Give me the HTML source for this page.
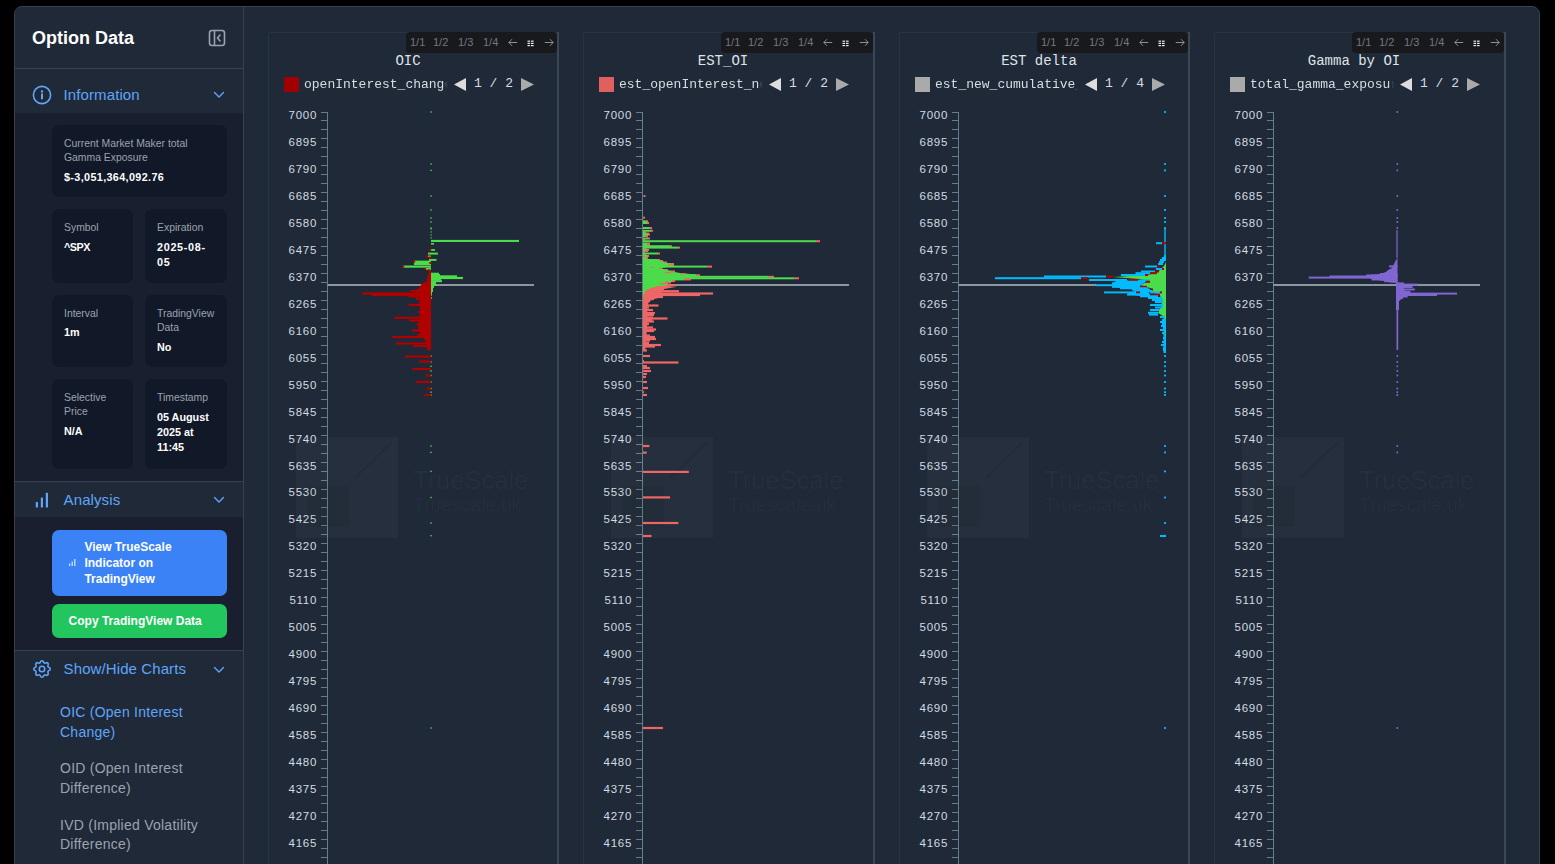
<!DOCTYPE html>
<html><head><meta charset="utf-8"><title>Option Data</title><style>
*{box-sizing:border-box;margin:0;padding:0}
html,body{width:1555px;height:864px;overflow:hidden;background:#000}
body{position:relative;font-family:"Liberation Sans",sans-serif}
.a{position:absolute}
.app{left:14px;top:6px;width:1526px;height:900px;border:1px solid #374151;border-radius:8px;background:#1f2937}
.side-r{left:243px;top:7px;width:1px;height:860px;background:#374151}
.hr{height:1px;background:#374151;left:15px;width:228px}
.ttl{left:32px;top:27px;font-size:18px;font-weight:bold;color:#fff;line-height:22px;white-space:nowrap}
.sec{left:15px;width:228px}
.sech{color:#60a5fa;font-size:15px;line-height:18px;white-space:nowrap;left:63.6px;letter-spacing:0.1px}
.card{background:#111827;border-radius:7px}
.lbl{color:#9ca3af;font-size:10.4px;line-height:14.2px;margin-top:0.6px}
.val{color:#fff;font-size:10.8px;font-weight:bold;line-height:15.3px}
.btn{border-radius:7px;color:#fff;font-weight:bold;font-size:12px;line-height:16px}
.item{font-size:14px;line-height:19.5px;left:60px;width:175px;letter-spacing:0.25px}
.mono{font-family:"Liberation Mono",monospace}
.cbox{border-left:1px solid #28353a;border-top:1px solid #28353a;border-top-left-radius:2px;height:840px}
.cbr{width:2px;background:#3b4853;height:832px}
.tb{height:21px;background:#18191d;border-radius:4px;color:#72777f;font-size:11px;line-height:21px}
.tb span{position:absolute;top:0}
.ctitle{font-size:14px;color:#dfe3e8;line-height:16px;white-space:nowrap}
.leg{font-size:13px;color:#d8dde3;line-height:16px;white-space:nowrap;overflow:hidden}
.fade{-webkit-mask-image:linear-gradient(to right,#000 0,#000 139px,rgba(0,0,0,0.3) 141px,transparent 144px);mask-image:linear-gradient(to right,#000 0,#000 139px,rgba(0,0,0,0.3) 141px,transparent 144px)}
.ylab{font-size:11.5px;color:#d3dbe3;line-height:14px;text-align:right;width:40px;letter-spacing:0.7px}
</style></head>
<body>
<div class="a app"></div>
<div class="a side-r"></div>
<div class="a ttl">Option Data</div>
<svg class="a" style="left:208px;top:29px" width="18" height="18" viewBox="0 0 18 18" fill="none" stroke="#9ca3af" stroke-width="1.6" stroke-linecap="round" stroke-linejoin="round"><rect x="1.5" y="1.5" width="15" height="15" rx="2.5"/><line x1="6.5" y1="1.5" x2="6.5" y2="16.5"/><polyline points="12,6 9.5,9 12,12"/></svg>
<div class="a hr" style="top:68px"></div>
<div class="a sec" style="top:113px;height:368px;background:#191f2e"></div>
<svg class="a" style="left:32px;top:85px" width="20" height="20" viewBox="0 0 20 20" fill="none" stroke="#60a5fa" stroke-width="1.6" stroke-linecap="round"><circle cx="10" cy="10" r="8.6"/><line x1="10" y1="9.2" x2="10" y2="13.6" stroke-width="2"/><circle cx="10" cy="6.4" r="0.6" fill="#60a5fa" stroke-width="1.2"/></svg>
<div class="a sech" style="top:86.1px">Information</div>
<svg class="a" style="left:213px;top:91px" width="12" height="8" viewBox="0 0 12 8" fill="none" stroke="#60a5fa" stroke-width="1.4" stroke-linecap="round" stroke-linejoin="round"><polyline points="1.5,1.5 6,6 10.5,1.5"/></svg>
<div class="a card" style="left:52px;top:125px;width:175px;height:72px"></div>
<div class="a lbl" style="left:64px;top:136.6px;width:165px">Current Market Maker total<br>Gamma Exposure</div>
<div class="a val" style="left:64px;top:169.5px;width:165px"><span style="letter-spacing:0.36px">$-3,051,364,092.76</span></div>
<div class="a card" style="left:52px;top:209px;width:81px;height:74px"></div>
<div class="a lbl" style="left:64px;top:220.6px;width:70px">Symbol</div>
<div class="a val" style="left:64px;top:239.5px;width:70px"><span style="letter-spacing:-0.5px">^SPX</span></div>
<div class="a card" style="left:145px;top:209px;width:82px;height:74px"></div>
<div class="a lbl" style="left:157px;top:220.6px;width:70px">Expiration</div>
<div class="a val" style="left:157px;top:239.5px;width:70px"><span style="letter-spacing:0.7px">2025-08-<br>05</span></div>
<div class="a card" style="left:52px;top:295px;width:81px;height:72px"></div>
<div class="a lbl" style="left:64px;top:306.6px;width:70px">Interval</div>
<div class="a val" style="left:64px;top:324.7px;width:70px">1m</div>
<div class="a card" style="left:145px;top:295px;width:82px;height:72px"></div>
<div class="a lbl" style="left:157px;top:306.6px;width:70px">TradingView<br>Data</div>
<div class="a val" style="left:157px;top:339.5px;width:70px">No</div>
<div class="a card" style="left:52px;top:379px;width:81px;height:90px"></div>
<div class="a lbl" style="left:64px;top:390.6px;width:70px">Selective<br>Price</div>
<div class="a val" style="left:64px;top:423.5px;width:70px">N/A</div>
<div class="a card" style="left:145px;top:379px;width:82px;height:90px"></div>
<div class="a lbl" style="left:157px;top:390.6px;width:70px">Timestamp</div>
<div class="a val" style="left:157px;top:409.5px;width:70px">05 August<br>2025 at<br>11:45</div>
<div class="a hr" style="top:481px"></div>
<div class="a sec" style="top:517px;height:133px;background:#191f2e"></div>
<svg class="a" style="left:35px;top:492px" width="14" height="16" viewBox="0 0 14 16" fill="#60a5fa"><rect x="0.8" y="10" width="2.2" height="5.5" rx="0.5"/><rect x="5.8" y="5.5" width="2.2" height="10" rx="0.5"/><rect x="10.8" y="0.8" width="2.2" height="14.7" rx="0.5"/></svg>
<div class="a sech" style="top:490.9px">Analysis</div>
<svg class="a" style="left:213px;top:496px" width="12" height="8" viewBox="0 0 12 8" fill="none" stroke="#60a5fa" stroke-width="1.4" stroke-linecap="round" stroke-linejoin="round"><polyline points="1.5,1.5 6,6 10.5,1.5"/></svg>
<div class="a btn" style="left:52px;top:530px;width:175px;height:66px;background:#3b82f6"></div>
<svg class="a" style="left:69px;top:559px" width="7" height="7" viewBox="0 0 7 7" fill="#dbe7fd"><rect x="0" y="4.5" width="1.2" height="2.5"/><rect x="2.6" y="2.5" width="1.2" height="4.5"/><rect x="5.2" y="0" width="1.2" height="7"/></svg>
<div class="a btn" style="left:84.4px;top:538.6px;width:140px">View TrueScale<br>Indicator on<br>TradingView</div>
<div class="a btn" style="left:52px;top:604px;width:175px;height:34px;background:#22c55e"></div>
<div class="a btn" style="left:68.6px;top:613.2px;width:160px;white-space:nowrap">Copy TradingView Data</div>
<div class="a hr" style="top:650px"></div>
<svg class="a" style="left:31px;top:658px" width="22" height="22" viewBox="0 0 24 24" fill="none" stroke="#60a5fa" stroke-width="1.7" stroke-linecap="round" stroke-linejoin="round"><path d="M10.325 4.317c.426-1.756 2.924-1.756 3.35 0a1.724 1.724 0 002.573 1.066c1.543-.94 3.31.826 2.37 2.37a1.724 1.724 0 001.065 2.572c1.756.426 1.756 2.924 0 3.35a1.724 1.724 0 00-1.066 2.573c.94 1.543-.826 3.31-2.37 2.37a1.724 1.724 0 00-2.572 1.065c-.426 1.756-2.924 1.756-3.35 0a1.724 1.724 0 00-2.573-1.066c-1.543.94-3.31-.826-2.37-2.37a1.724 1.724 0 00-1.065-2.572c-1.756-.426-1.756-2.924 0-3.35a1.724 1.724 0 001.066-2.573c-.94-1.543.826-3.31 2.37-2.37.996.608 2.296.07 2.572-1.065z"/><circle cx="12" cy="12" r="3"/></svg>
<div class="a sech" style="top:659.8px">Show/Hide Charts</div>
<svg class="a" style="left:213px;top:666px" width="12" height="8" viewBox="0 0 12 8" fill="none" stroke="#60a5fa" stroke-width="1.4" stroke-linecap="round" stroke-linejoin="round"><polyline points="1.5,1.5 6,6 10.5,1.5"/></svg>
<div class="a item" style="top:703.2px;color:#60a5fa">OIC (Open Interest<br>Change)</div>
<div class="a item" style="top:759.1px;color:#9ca3af">OID (Open Interest<br>Difference)</div>
<div class="a item" style="top:815.5px;color:#9ca3af">IVD (Implied Volatility<br>Difference)</div>
<div class="a cbox" style="left:268px;top:32px;width:289px"></div>
<div class="a cbr" style="left:557px;top:32px"></div>
<div class="a tb" style="left:406px;top:32px;width:151px"><span style="left:4px">1/1</span><span style="left:27px">1/2</span><span style="left:52px">1/3</span><span style="left:77px">1/4</span><svg style="position:absolute;left:102px;top:6px" width="10" height="9" viewBox="0 0 10 9" fill="none" stroke="#8b8f96" stroke-width="1"><line x1="0.8" y1="4.5" x2="9.2" y2="4.5"/><polyline points="4,1.2 0.8,4.5 4,7.8"/></svg><svg style="position:absolute;left:121px;top:8px" width="8" height="7" viewBox="0 0 8 7" fill="#e8ecf0"><rect x="0.5" y="0.6" width="2.6" height="1.2"/><rect x="4" y="0.6" width="2.6" height="1.2"/><rect x="0.5" y="2.8" width="2.6" height="1.2"/><rect x="4" y="2.8" width="2.6" height="1.2"/><rect x="0.5" y="5" width="2.6" height="1.2"/><rect x="4" y="5" width="2.6" height="1.2"/></svg><svg style="position:absolute;left:138px;top:6px" width="10" height="9" viewBox="0 0 10 9" fill="none" stroke="#8b8f96" stroke-width="1"><line x1="0.8" y1="4.5" x2="9.2" y2="4.5"/><polyline points="6,1.2 9.2,4.5 6,7.8"/></svg></div>
<div class="a ctitle mono" style="left:308px;top:52.8px;width:200px;text-align:center">OIC</div>
<div class="a" style="left:284px;top:77px;width:15px;height:15px;background:#a00000"></div>
<div class="a leg mono fade" style="left:304px;top:76.6px;width:144px">openInterest_change</div>
<svg class="a" style="left:454px;top:78px" width="13" height="13" viewBox="0 0 13 13"><polygon points="0,6.5 12,0 12,13" fill="#dddddd"/></svg>
<div class="a leg mono" style="left:474px;top:76px">1 / 2</div>
<svg class="a" style="left:521px;top:78px" width="13" height="13" viewBox="0 0 13 13"><polygon points="13,6.5 0,0 0,13" fill="#aaaaaa"/></svg>
<svg class="a" style="left:319px;top:100px" width="10" height="770" viewBox="319 100 10 770"><line x1="327.5" y1="112" x2="327.5" y2="870" stroke="#627e88" stroke-width="1"/><line x1="321" y1="112.5" x2="327" y2="112.5" stroke="#627e88" stroke-width="1"/><line x1="321" y1="120.5" x2="327" y2="120.5" stroke="#627e88" stroke-width="1"/><line x1="321" y1="129.5" x2="327" y2="129.5" stroke="#627e88" stroke-width="1"/><line x1="321" y1="138.5" x2="327" y2="138.5" stroke="#627e88" stroke-width="1"/><line x1="321" y1="147.5" x2="327" y2="147.5" stroke="#627e88" stroke-width="1"/><line x1="321" y1="156.5" x2="327" y2="156.5" stroke="#627e88" stroke-width="1"/><line x1="321" y1="165.5" x2="327" y2="165.5" stroke="#627e88" stroke-width="1"/><line x1="321" y1="174.5" x2="327" y2="174.5" stroke="#627e88" stroke-width="1"/><line x1="321" y1="183.5" x2="327" y2="183.5" stroke="#627e88" stroke-width="1"/><line x1="321" y1="192.5" x2="327" y2="192.5" stroke="#627e88" stroke-width="1"/><line x1="321" y1="201.5" x2="327" y2="201.5" stroke="#627e88" stroke-width="1"/><line x1="321" y1="210.5" x2="327" y2="210.5" stroke="#627e88" stroke-width="1"/><line x1="321" y1="219.5" x2="327" y2="219.5" stroke="#627e88" stroke-width="1"/><line x1="321" y1="228.5" x2="327" y2="228.5" stroke="#627e88" stroke-width="1"/><line x1="321" y1="237.5" x2="327" y2="237.5" stroke="#627e88" stroke-width="1"/><line x1="321" y1="246.5" x2="327" y2="246.5" stroke="#627e88" stroke-width="1"/><line x1="321" y1="255.5" x2="327" y2="255.5" stroke="#627e88" stroke-width="1"/><line x1="321" y1="264.5" x2="327" y2="264.5" stroke="#627e88" stroke-width="1"/><line x1="321" y1="273.5" x2="327" y2="273.5" stroke="#627e88" stroke-width="1"/><line x1="321" y1="282.5" x2="327" y2="282.5" stroke="#627e88" stroke-width="1"/><line x1="321" y1="291.5" x2="327" y2="291.5" stroke="#627e88" stroke-width="1"/><line x1="321" y1="300.5" x2="327" y2="300.5" stroke="#627e88" stroke-width="1"/><line x1="321" y1="309.5" x2="327" y2="309.5" stroke="#627e88" stroke-width="1"/><line x1="321" y1="318.5" x2="327" y2="318.5" stroke="#627e88" stroke-width="1"/><line x1="321" y1="327.5" x2="327" y2="327.5" stroke="#627e88" stroke-width="1"/><line x1="321" y1="336.5" x2="327" y2="336.5" stroke="#627e88" stroke-width="1"/><line x1="321" y1="345.5" x2="327" y2="345.5" stroke="#627e88" stroke-width="1"/><line x1="321" y1="354.5" x2="327" y2="354.5" stroke="#627e88" stroke-width="1"/><line x1="321" y1="363.5" x2="327" y2="363.5" stroke="#627e88" stroke-width="1"/><line x1="321" y1="372.5" x2="327" y2="372.5" stroke="#627e88" stroke-width="1"/><line x1="321" y1="381.5" x2="327" y2="381.5" stroke="#627e88" stroke-width="1"/><line x1="321" y1="390.5" x2="327" y2="390.5" stroke="#627e88" stroke-width="1"/><line x1="321" y1="399.5" x2="327" y2="399.5" stroke="#627e88" stroke-width="1"/><line x1="321" y1="408.5" x2="327" y2="408.5" stroke="#627e88" stroke-width="1"/><line x1="321" y1="417.5" x2="327" y2="417.5" stroke="#627e88" stroke-width="1"/><line x1="321" y1="426.5" x2="327" y2="426.5" stroke="#627e88" stroke-width="1"/><line x1="321" y1="435.5" x2="327" y2="435.5" stroke="#627e88" stroke-width="1"/><line x1="321" y1="444.5" x2="327" y2="444.5" stroke="#627e88" stroke-width="1"/><line x1="321" y1="453.5" x2="327" y2="453.5" stroke="#627e88" stroke-width="1"/><line x1="321" y1="462.5" x2="327" y2="462.5" stroke="#627e88" stroke-width="1"/><line x1="321" y1="471.5" x2="327" y2="471.5" stroke="#627e88" stroke-width="1"/><line x1="321" y1="480.5" x2="327" y2="480.5" stroke="#627e88" stroke-width="1"/><line x1="321" y1="489.5" x2="327" y2="489.5" stroke="#627e88" stroke-width="1"/><line x1="321" y1="498.5" x2="327" y2="498.5" stroke="#627e88" stroke-width="1"/><line x1="321" y1="507.5" x2="327" y2="507.5" stroke="#627e88" stroke-width="1"/><line x1="321" y1="516.5" x2="327" y2="516.5" stroke="#627e88" stroke-width="1"/><line x1="321" y1="525.5" x2="327" y2="525.5" stroke="#627e88" stroke-width="1"/><line x1="321" y1="534.5" x2="327" y2="534.5" stroke="#627e88" stroke-width="1"/><line x1="321" y1="543.5" x2="327" y2="543.5" stroke="#627e88" stroke-width="1"/><line x1="321" y1="552.5" x2="327" y2="552.5" stroke="#627e88" stroke-width="1"/><line x1="321" y1="561.5" x2="327" y2="561.5" stroke="#627e88" stroke-width="1"/><line x1="321" y1="570.5" x2="327" y2="570.5" stroke="#627e88" stroke-width="1"/><line x1="321" y1="579.5" x2="327" y2="579.5" stroke="#627e88" stroke-width="1"/><line x1="321" y1="588.5" x2="327" y2="588.5" stroke="#627e88" stroke-width="1"/><line x1="321" y1="597.5" x2="327" y2="597.5" stroke="#627e88" stroke-width="1"/><line x1="321" y1="606.5" x2="327" y2="606.5" stroke="#627e88" stroke-width="1"/><line x1="321" y1="615.5" x2="327" y2="615.5" stroke="#627e88" stroke-width="1"/><line x1="321" y1="624.5" x2="327" y2="624.5" stroke="#627e88" stroke-width="1"/><line x1="321" y1="633.5" x2="327" y2="633.5" stroke="#627e88" stroke-width="1"/><line x1="321" y1="642.5" x2="327" y2="642.5" stroke="#627e88" stroke-width="1"/><line x1="321" y1="651.5" x2="327" y2="651.5" stroke="#627e88" stroke-width="1"/><line x1="321" y1="660.5" x2="327" y2="660.5" stroke="#627e88" stroke-width="1"/><line x1="321" y1="669.5" x2="327" y2="669.5" stroke="#627e88" stroke-width="1"/><line x1="321" y1="678.5" x2="327" y2="678.5" stroke="#627e88" stroke-width="1"/><line x1="321" y1="687.5" x2="327" y2="687.5" stroke="#627e88" stroke-width="1"/><line x1="321" y1="696.5" x2="327" y2="696.5" stroke="#627e88" stroke-width="1"/><line x1="321" y1="705.5" x2="327" y2="705.5" stroke="#627e88" stroke-width="1"/><line x1="321" y1="714.5" x2="327" y2="714.5" stroke="#627e88" stroke-width="1"/><line x1="321" y1="723.5" x2="327" y2="723.5" stroke="#627e88" stroke-width="1"/><line x1="321" y1="732.5" x2="327" y2="732.5" stroke="#627e88" stroke-width="1"/><line x1="321" y1="741.5" x2="327" y2="741.5" stroke="#627e88" stroke-width="1"/><line x1="321" y1="750.5" x2="327" y2="750.5" stroke="#627e88" stroke-width="1"/><line x1="321" y1="759.5" x2="327" y2="759.5" stroke="#627e88" stroke-width="1"/><line x1="321" y1="768.5" x2="327" y2="768.5" stroke="#627e88" stroke-width="1"/><line x1="321" y1="777.5" x2="327" y2="777.5" stroke="#627e88" stroke-width="1"/><line x1="321" y1="786.5" x2="327" y2="786.5" stroke="#627e88" stroke-width="1"/><line x1="321" y1="795.5" x2="327" y2="795.5" stroke="#627e88" stroke-width="1"/><line x1="321" y1="803.5" x2="327" y2="803.5" stroke="#627e88" stroke-width="1"/><line x1="321" y1="812.5" x2="327" y2="812.5" stroke="#627e88" stroke-width="1"/><line x1="321" y1="821.5" x2="327" y2="821.5" stroke="#627e88" stroke-width="1"/><line x1="321" y1="830.5" x2="327" y2="830.5" stroke="#627e88" stroke-width="1"/><line x1="321" y1="839.5" x2="327" y2="839.5" stroke="#627e88" stroke-width="1"/><line x1="321" y1="848.5" x2="327" y2="848.5" stroke="#627e88" stroke-width="1"/><line x1="321" y1="857.5" x2="327" y2="857.5" stroke="#627e88" stroke-width="1"/><line x1="321" y1="866.5" x2="327" y2="866.5" stroke="#627e88" stroke-width="1"/></svg>
<div class="a ylab" style="left:277px;top:108.0px">7000</div>
<div class="a ylab" style="left:277px;top:135.0px">6895</div>
<div class="a ylab" style="left:277px;top:161.9px">6790</div>
<div class="a ylab" style="left:277px;top:188.9px">6685</div>
<div class="a ylab" style="left:277px;top:215.8px">6580</div>
<div class="a ylab" style="left:277px;top:242.8px">6475</div>
<div class="a ylab" style="left:277px;top:269.8px">6370</div>
<div class="a ylab" style="left:277px;top:296.7px">6265</div>
<div class="a ylab" style="left:277px;top:323.7px">6160</div>
<div class="a ylab" style="left:277px;top:350.6px">6055</div>
<div class="a ylab" style="left:277px;top:377.6px">5950</div>
<div class="a ylab" style="left:277px;top:404.6px">5845</div>
<div class="a ylab" style="left:277px;top:431.5px">5740</div>
<div class="a ylab" style="left:277px;top:458.5px">5635</div>
<div class="a ylab" style="left:277px;top:485.4px">5530</div>
<div class="a ylab" style="left:277px;top:512.4px">5425</div>
<div class="a ylab" style="left:277px;top:539.4px">5320</div>
<div class="a ylab" style="left:277px;top:566.3px">5215</div>
<div class="a ylab" style="left:277px;top:593.3px">5110</div>
<div class="a ylab" style="left:277px;top:620.2px">5005</div>
<div class="a ylab" style="left:277px;top:647.2px">4900</div>
<div class="a ylab" style="left:277px;top:674.2px">4795</div>
<div class="a ylab" style="left:277px;top:701.1px">4690</div>
<div class="a ylab" style="left:277px;top:728.1px">4585</div>
<div class="a ylab" style="left:277px;top:755.0px">4480</div>
<div class="a ylab" style="left:277px;top:782.0px">4375</div>
<div class="a ylab" style="left:277px;top:809.0px">4270</div>
<div class="a ylab" style="left:277px;top:835.9px">4165</div>
<div class="a ylab" style="left:277px;top:862.9px">4060</div>
<div class="a cbox" style="left:583px;top:32px;width:290px"></div>
<div class="a cbr" style="left:873px;top:32px"></div>
<div class="a tb" style="left:721px;top:32px;width:152px"><span style="left:4px">1/1</span><span style="left:27px">1/2</span><span style="left:52px">1/3</span><span style="left:77px">1/4</span><svg style="position:absolute;left:102px;top:6px" width="10" height="9" viewBox="0 0 10 9" fill="none" stroke="#8b8f96" stroke-width="1"><line x1="0.8" y1="4.5" x2="9.2" y2="4.5"/><polyline points="4,1.2 0.8,4.5 4,7.8"/></svg><svg style="position:absolute;left:121px;top:8px" width="8" height="7" viewBox="0 0 8 7" fill="#e8ecf0"><rect x="0.5" y="0.6" width="2.6" height="1.2"/><rect x="4" y="0.6" width="2.6" height="1.2"/><rect x="0.5" y="2.8" width="2.6" height="1.2"/><rect x="4" y="2.8" width="2.6" height="1.2"/><rect x="0.5" y="5" width="2.6" height="1.2"/><rect x="4" y="5" width="2.6" height="1.2"/></svg><svg style="position:absolute;left:138px;top:6px" width="10" height="9" viewBox="0 0 10 9" fill="none" stroke="#8b8f96" stroke-width="1"><line x1="0.8" y1="4.5" x2="9.2" y2="4.5"/><polyline points="6,1.2 9.2,4.5 6,7.8"/></svg></div>
<div class="a ctitle mono" style="left:623px;top:52.8px;width:200px;text-align:center">EST_OI</div>
<div class="a" style="left:599px;top:77px;width:15px;height:15px;background:#e06060"></div>
<div class="a leg mono fade" style="left:619px;top:76.6px;width:144px">est_openInterest_new</div>
<svg class="a" style="left:769px;top:78px" width="13" height="13" viewBox="0 0 13 13"><polygon points="0,6.5 12,0 12,13" fill="#dddddd"/></svg>
<div class="a leg mono" style="left:789px;top:76px">1 / 2</div>
<svg class="a" style="left:836px;top:78px" width="13" height="13" viewBox="0 0 13 13"><polygon points="13,6.5 0,0 0,13" fill="#aaaaaa"/></svg>
<svg class="a" style="left:634px;top:100px" width="10" height="770" viewBox="634 100 10 770"><line x1="642.5" y1="112" x2="642.5" y2="870" stroke="#627e88" stroke-width="1"/><line x1="636" y1="112.5" x2="642" y2="112.5" stroke="#627e88" stroke-width="1"/><line x1="636" y1="120.5" x2="642" y2="120.5" stroke="#627e88" stroke-width="1"/><line x1="636" y1="129.5" x2="642" y2="129.5" stroke="#627e88" stroke-width="1"/><line x1="636" y1="138.5" x2="642" y2="138.5" stroke="#627e88" stroke-width="1"/><line x1="636" y1="147.5" x2="642" y2="147.5" stroke="#627e88" stroke-width="1"/><line x1="636" y1="156.5" x2="642" y2="156.5" stroke="#627e88" stroke-width="1"/><line x1="636" y1="165.5" x2="642" y2="165.5" stroke="#627e88" stroke-width="1"/><line x1="636" y1="174.5" x2="642" y2="174.5" stroke="#627e88" stroke-width="1"/><line x1="636" y1="183.5" x2="642" y2="183.5" stroke="#627e88" stroke-width="1"/><line x1="636" y1="192.5" x2="642" y2="192.5" stroke="#627e88" stroke-width="1"/><line x1="636" y1="201.5" x2="642" y2="201.5" stroke="#627e88" stroke-width="1"/><line x1="636" y1="210.5" x2="642" y2="210.5" stroke="#627e88" stroke-width="1"/><line x1="636" y1="219.5" x2="642" y2="219.5" stroke="#627e88" stroke-width="1"/><line x1="636" y1="228.5" x2="642" y2="228.5" stroke="#627e88" stroke-width="1"/><line x1="636" y1="237.5" x2="642" y2="237.5" stroke="#627e88" stroke-width="1"/><line x1="636" y1="246.5" x2="642" y2="246.5" stroke="#627e88" stroke-width="1"/><line x1="636" y1="255.5" x2="642" y2="255.5" stroke="#627e88" stroke-width="1"/><line x1="636" y1="264.5" x2="642" y2="264.5" stroke="#627e88" stroke-width="1"/><line x1="636" y1="273.5" x2="642" y2="273.5" stroke="#627e88" stroke-width="1"/><line x1="636" y1="282.5" x2="642" y2="282.5" stroke="#627e88" stroke-width="1"/><line x1="636" y1="291.5" x2="642" y2="291.5" stroke="#627e88" stroke-width="1"/><line x1="636" y1="300.5" x2="642" y2="300.5" stroke="#627e88" stroke-width="1"/><line x1="636" y1="309.5" x2="642" y2="309.5" stroke="#627e88" stroke-width="1"/><line x1="636" y1="318.5" x2="642" y2="318.5" stroke="#627e88" stroke-width="1"/><line x1="636" y1="327.5" x2="642" y2="327.5" stroke="#627e88" stroke-width="1"/><line x1="636" y1="336.5" x2="642" y2="336.5" stroke="#627e88" stroke-width="1"/><line x1="636" y1="345.5" x2="642" y2="345.5" stroke="#627e88" stroke-width="1"/><line x1="636" y1="354.5" x2="642" y2="354.5" stroke="#627e88" stroke-width="1"/><line x1="636" y1="363.5" x2="642" y2="363.5" stroke="#627e88" stroke-width="1"/><line x1="636" y1="372.5" x2="642" y2="372.5" stroke="#627e88" stroke-width="1"/><line x1="636" y1="381.5" x2="642" y2="381.5" stroke="#627e88" stroke-width="1"/><line x1="636" y1="390.5" x2="642" y2="390.5" stroke="#627e88" stroke-width="1"/><line x1="636" y1="399.5" x2="642" y2="399.5" stroke="#627e88" stroke-width="1"/><line x1="636" y1="408.5" x2="642" y2="408.5" stroke="#627e88" stroke-width="1"/><line x1="636" y1="417.5" x2="642" y2="417.5" stroke="#627e88" stroke-width="1"/><line x1="636" y1="426.5" x2="642" y2="426.5" stroke="#627e88" stroke-width="1"/><line x1="636" y1="435.5" x2="642" y2="435.5" stroke="#627e88" stroke-width="1"/><line x1="636" y1="444.5" x2="642" y2="444.5" stroke="#627e88" stroke-width="1"/><line x1="636" y1="453.5" x2="642" y2="453.5" stroke="#627e88" stroke-width="1"/><line x1="636" y1="462.5" x2="642" y2="462.5" stroke="#627e88" stroke-width="1"/><line x1="636" y1="471.5" x2="642" y2="471.5" stroke="#627e88" stroke-width="1"/><line x1="636" y1="480.5" x2="642" y2="480.5" stroke="#627e88" stroke-width="1"/><line x1="636" y1="489.5" x2="642" y2="489.5" stroke="#627e88" stroke-width="1"/><line x1="636" y1="498.5" x2="642" y2="498.5" stroke="#627e88" stroke-width="1"/><line x1="636" y1="507.5" x2="642" y2="507.5" stroke="#627e88" stroke-width="1"/><line x1="636" y1="516.5" x2="642" y2="516.5" stroke="#627e88" stroke-width="1"/><line x1="636" y1="525.5" x2="642" y2="525.5" stroke="#627e88" stroke-width="1"/><line x1="636" y1="534.5" x2="642" y2="534.5" stroke="#627e88" stroke-width="1"/><line x1="636" y1="543.5" x2="642" y2="543.5" stroke="#627e88" stroke-width="1"/><line x1="636" y1="552.5" x2="642" y2="552.5" stroke="#627e88" stroke-width="1"/><line x1="636" y1="561.5" x2="642" y2="561.5" stroke="#627e88" stroke-width="1"/><line x1="636" y1="570.5" x2="642" y2="570.5" stroke="#627e88" stroke-width="1"/><line x1="636" y1="579.5" x2="642" y2="579.5" stroke="#627e88" stroke-width="1"/><line x1="636" y1="588.5" x2="642" y2="588.5" stroke="#627e88" stroke-width="1"/><line x1="636" y1="597.5" x2="642" y2="597.5" stroke="#627e88" stroke-width="1"/><line x1="636" y1="606.5" x2="642" y2="606.5" stroke="#627e88" stroke-width="1"/><line x1="636" y1="615.5" x2="642" y2="615.5" stroke="#627e88" stroke-width="1"/><line x1="636" y1="624.5" x2="642" y2="624.5" stroke="#627e88" stroke-width="1"/><line x1="636" y1="633.5" x2="642" y2="633.5" stroke="#627e88" stroke-width="1"/><line x1="636" y1="642.5" x2="642" y2="642.5" stroke="#627e88" stroke-width="1"/><line x1="636" y1="651.5" x2="642" y2="651.5" stroke="#627e88" stroke-width="1"/><line x1="636" y1="660.5" x2="642" y2="660.5" stroke="#627e88" stroke-width="1"/><line x1="636" y1="669.5" x2="642" y2="669.5" stroke="#627e88" stroke-width="1"/><line x1="636" y1="678.5" x2="642" y2="678.5" stroke="#627e88" stroke-width="1"/><line x1="636" y1="687.5" x2="642" y2="687.5" stroke="#627e88" stroke-width="1"/><line x1="636" y1="696.5" x2="642" y2="696.5" stroke="#627e88" stroke-width="1"/><line x1="636" y1="705.5" x2="642" y2="705.5" stroke="#627e88" stroke-width="1"/><line x1="636" y1="714.5" x2="642" y2="714.5" stroke="#627e88" stroke-width="1"/><line x1="636" y1="723.5" x2="642" y2="723.5" stroke="#627e88" stroke-width="1"/><line x1="636" y1="732.5" x2="642" y2="732.5" stroke="#627e88" stroke-width="1"/><line x1="636" y1="741.5" x2="642" y2="741.5" stroke="#627e88" stroke-width="1"/><line x1="636" y1="750.5" x2="642" y2="750.5" stroke="#627e88" stroke-width="1"/><line x1="636" y1="759.5" x2="642" y2="759.5" stroke="#627e88" stroke-width="1"/><line x1="636" y1="768.5" x2="642" y2="768.5" stroke="#627e88" stroke-width="1"/><line x1="636" y1="777.5" x2="642" y2="777.5" stroke="#627e88" stroke-width="1"/><line x1="636" y1="786.5" x2="642" y2="786.5" stroke="#627e88" stroke-width="1"/><line x1="636" y1="795.5" x2="642" y2="795.5" stroke="#627e88" stroke-width="1"/><line x1="636" y1="803.5" x2="642" y2="803.5" stroke="#627e88" stroke-width="1"/><line x1="636" y1="812.5" x2="642" y2="812.5" stroke="#627e88" stroke-width="1"/><line x1="636" y1="821.5" x2="642" y2="821.5" stroke="#627e88" stroke-width="1"/><line x1="636" y1="830.5" x2="642" y2="830.5" stroke="#627e88" stroke-width="1"/><line x1="636" y1="839.5" x2="642" y2="839.5" stroke="#627e88" stroke-width="1"/><line x1="636" y1="848.5" x2="642" y2="848.5" stroke="#627e88" stroke-width="1"/><line x1="636" y1="857.5" x2="642" y2="857.5" stroke="#627e88" stroke-width="1"/><line x1="636" y1="866.5" x2="642" y2="866.5" stroke="#627e88" stroke-width="1"/></svg>
<div class="a ylab" style="left:592px;top:108.0px">7000</div>
<div class="a ylab" style="left:592px;top:135.0px">6895</div>
<div class="a ylab" style="left:592px;top:161.9px">6790</div>
<div class="a ylab" style="left:592px;top:188.9px">6685</div>
<div class="a ylab" style="left:592px;top:215.8px">6580</div>
<div class="a ylab" style="left:592px;top:242.8px">6475</div>
<div class="a ylab" style="left:592px;top:269.8px">6370</div>
<div class="a ylab" style="left:592px;top:296.7px">6265</div>
<div class="a ylab" style="left:592px;top:323.7px">6160</div>
<div class="a ylab" style="left:592px;top:350.6px">6055</div>
<div class="a ylab" style="left:592px;top:377.6px">5950</div>
<div class="a ylab" style="left:592px;top:404.6px">5845</div>
<div class="a ylab" style="left:592px;top:431.5px">5740</div>
<div class="a ylab" style="left:592px;top:458.5px">5635</div>
<div class="a ylab" style="left:592px;top:485.4px">5530</div>
<div class="a ylab" style="left:592px;top:512.4px">5425</div>
<div class="a ylab" style="left:592px;top:539.4px">5320</div>
<div class="a ylab" style="left:592px;top:566.3px">5215</div>
<div class="a ylab" style="left:592px;top:593.3px">5110</div>
<div class="a ylab" style="left:592px;top:620.2px">5005</div>
<div class="a ylab" style="left:592px;top:647.2px">4900</div>
<div class="a ylab" style="left:592px;top:674.2px">4795</div>
<div class="a ylab" style="left:592px;top:701.1px">4690</div>
<div class="a ylab" style="left:592px;top:728.1px">4585</div>
<div class="a ylab" style="left:592px;top:755.0px">4480</div>
<div class="a ylab" style="left:592px;top:782.0px">4375</div>
<div class="a ylab" style="left:592px;top:809.0px">4270</div>
<div class="a ylab" style="left:592px;top:835.9px">4165</div>
<div class="a ylab" style="left:592px;top:862.9px">4060</div>
<div class="a cbox" style="left:899px;top:32px;width:289px"></div>
<div class="a cbr" style="left:1188px;top:32px"></div>
<div class="a tb" style="left:1037px;top:32px;width:151px"><span style="left:4px">1/1</span><span style="left:27px">1/2</span><span style="left:52px">1/3</span><span style="left:77px">1/4</span><svg style="position:absolute;left:102px;top:6px" width="10" height="9" viewBox="0 0 10 9" fill="none" stroke="#8b8f96" stroke-width="1"><line x1="0.8" y1="4.5" x2="9.2" y2="4.5"/><polyline points="4,1.2 0.8,4.5 4,7.8"/></svg><svg style="position:absolute;left:121px;top:8px" width="8" height="7" viewBox="0 0 8 7" fill="#e8ecf0"><rect x="0.5" y="0.6" width="2.6" height="1.2"/><rect x="4" y="0.6" width="2.6" height="1.2"/><rect x="0.5" y="2.8" width="2.6" height="1.2"/><rect x="4" y="2.8" width="2.6" height="1.2"/><rect x="0.5" y="5" width="2.6" height="1.2"/><rect x="4" y="5" width="2.6" height="1.2"/></svg><svg style="position:absolute;left:138px;top:6px" width="10" height="9" viewBox="0 0 10 9" fill="none" stroke="#8b8f96" stroke-width="1"><line x1="0.8" y1="4.5" x2="9.2" y2="4.5"/><polyline points="6,1.2 9.2,4.5 6,7.8"/></svg></div>
<div class="a ctitle mono" style="left:939px;top:52.8px;width:200px;text-align:center">EST delta</div>
<div class="a" style="left:915px;top:77px;width:15px;height:15px;background:#aaaaaa"></div>
<div class="a leg mono fade" style="left:935px;top:76.6px;width:144px">est_new_cumulative_delta</div>
<svg class="a" style="left:1085px;top:78px" width="13" height="13" viewBox="0 0 13 13"><polygon points="0,6.5 12,0 12,13" fill="#dddddd"/></svg>
<div class="a leg mono" style="left:1105px;top:76px">1 / 4</div>
<svg class="a" style="left:1152px;top:78px" width="13" height="13" viewBox="0 0 13 13"><polygon points="13,6.5 0,0 0,13" fill="#aaaaaa"/></svg>
<svg class="a" style="left:950px;top:100px" width="10" height="770" viewBox="950 100 10 770"><line x1="958.5" y1="112" x2="958.5" y2="870" stroke="#627e88" stroke-width="1"/><line x1="952" y1="112.5" x2="958" y2="112.5" stroke="#627e88" stroke-width="1"/><line x1="952" y1="120.5" x2="958" y2="120.5" stroke="#627e88" stroke-width="1"/><line x1="952" y1="129.5" x2="958" y2="129.5" stroke="#627e88" stroke-width="1"/><line x1="952" y1="138.5" x2="958" y2="138.5" stroke="#627e88" stroke-width="1"/><line x1="952" y1="147.5" x2="958" y2="147.5" stroke="#627e88" stroke-width="1"/><line x1="952" y1="156.5" x2="958" y2="156.5" stroke="#627e88" stroke-width="1"/><line x1="952" y1="165.5" x2="958" y2="165.5" stroke="#627e88" stroke-width="1"/><line x1="952" y1="174.5" x2="958" y2="174.5" stroke="#627e88" stroke-width="1"/><line x1="952" y1="183.5" x2="958" y2="183.5" stroke="#627e88" stroke-width="1"/><line x1="952" y1="192.5" x2="958" y2="192.5" stroke="#627e88" stroke-width="1"/><line x1="952" y1="201.5" x2="958" y2="201.5" stroke="#627e88" stroke-width="1"/><line x1="952" y1="210.5" x2="958" y2="210.5" stroke="#627e88" stroke-width="1"/><line x1="952" y1="219.5" x2="958" y2="219.5" stroke="#627e88" stroke-width="1"/><line x1="952" y1="228.5" x2="958" y2="228.5" stroke="#627e88" stroke-width="1"/><line x1="952" y1="237.5" x2="958" y2="237.5" stroke="#627e88" stroke-width="1"/><line x1="952" y1="246.5" x2="958" y2="246.5" stroke="#627e88" stroke-width="1"/><line x1="952" y1="255.5" x2="958" y2="255.5" stroke="#627e88" stroke-width="1"/><line x1="952" y1="264.5" x2="958" y2="264.5" stroke="#627e88" stroke-width="1"/><line x1="952" y1="273.5" x2="958" y2="273.5" stroke="#627e88" stroke-width="1"/><line x1="952" y1="282.5" x2="958" y2="282.5" stroke="#627e88" stroke-width="1"/><line x1="952" y1="291.5" x2="958" y2="291.5" stroke="#627e88" stroke-width="1"/><line x1="952" y1="300.5" x2="958" y2="300.5" stroke="#627e88" stroke-width="1"/><line x1="952" y1="309.5" x2="958" y2="309.5" stroke="#627e88" stroke-width="1"/><line x1="952" y1="318.5" x2="958" y2="318.5" stroke="#627e88" stroke-width="1"/><line x1="952" y1="327.5" x2="958" y2="327.5" stroke="#627e88" stroke-width="1"/><line x1="952" y1="336.5" x2="958" y2="336.5" stroke="#627e88" stroke-width="1"/><line x1="952" y1="345.5" x2="958" y2="345.5" stroke="#627e88" stroke-width="1"/><line x1="952" y1="354.5" x2="958" y2="354.5" stroke="#627e88" stroke-width="1"/><line x1="952" y1="363.5" x2="958" y2="363.5" stroke="#627e88" stroke-width="1"/><line x1="952" y1="372.5" x2="958" y2="372.5" stroke="#627e88" stroke-width="1"/><line x1="952" y1="381.5" x2="958" y2="381.5" stroke="#627e88" stroke-width="1"/><line x1="952" y1="390.5" x2="958" y2="390.5" stroke="#627e88" stroke-width="1"/><line x1="952" y1="399.5" x2="958" y2="399.5" stroke="#627e88" stroke-width="1"/><line x1="952" y1="408.5" x2="958" y2="408.5" stroke="#627e88" stroke-width="1"/><line x1="952" y1="417.5" x2="958" y2="417.5" stroke="#627e88" stroke-width="1"/><line x1="952" y1="426.5" x2="958" y2="426.5" stroke="#627e88" stroke-width="1"/><line x1="952" y1="435.5" x2="958" y2="435.5" stroke="#627e88" stroke-width="1"/><line x1="952" y1="444.5" x2="958" y2="444.5" stroke="#627e88" stroke-width="1"/><line x1="952" y1="453.5" x2="958" y2="453.5" stroke="#627e88" stroke-width="1"/><line x1="952" y1="462.5" x2="958" y2="462.5" stroke="#627e88" stroke-width="1"/><line x1="952" y1="471.5" x2="958" y2="471.5" stroke="#627e88" stroke-width="1"/><line x1="952" y1="480.5" x2="958" y2="480.5" stroke="#627e88" stroke-width="1"/><line x1="952" y1="489.5" x2="958" y2="489.5" stroke="#627e88" stroke-width="1"/><line x1="952" y1="498.5" x2="958" y2="498.5" stroke="#627e88" stroke-width="1"/><line x1="952" y1="507.5" x2="958" y2="507.5" stroke="#627e88" stroke-width="1"/><line x1="952" y1="516.5" x2="958" y2="516.5" stroke="#627e88" stroke-width="1"/><line x1="952" y1="525.5" x2="958" y2="525.5" stroke="#627e88" stroke-width="1"/><line x1="952" y1="534.5" x2="958" y2="534.5" stroke="#627e88" stroke-width="1"/><line x1="952" y1="543.5" x2="958" y2="543.5" stroke="#627e88" stroke-width="1"/><line x1="952" y1="552.5" x2="958" y2="552.5" stroke="#627e88" stroke-width="1"/><line x1="952" y1="561.5" x2="958" y2="561.5" stroke="#627e88" stroke-width="1"/><line x1="952" y1="570.5" x2="958" y2="570.5" stroke="#627e88" stroke-width="1"/><line x1="952" y1="579.5" x2="958" y2="579.5" stroke="#627e88" stroke-width="1"/><line x1="952" y1="588.5" x2="958" y2="588.5" stroke="#627e88" stroke-width="1"/><line x1="952" y1="597.5" x2="958" y2="597.5" stroke="#627e88" stroke-width="1"/><line x1="952" y1="606.5" x2="958" y2="606.5" stroke="#627e88" stroke-width="1"/><line x1="952" y1="615.5" x2="958" y2="615.5" stroke="#627e88" stroke-width="1"/><line x1="952" y1="624.5" x2="958" y2="624.5" stroke="#627e88" stroke-width="1"/><line x1="952" y1="633.5" x2="958" y2="633.5" stroke="#627e88" stroke-width="1"/><line x1="952" y1="642.5" x2="958" y2="642.5" stroke="#627e88" stroke-width="1"/><line x1="952" y1="651.5" x2="958" y2="651.5" stroke="#627e88" stroke-width="1"/><line x1="952" y1="660.5" x2="958" y2="660.5" stroke="#627e88" stroke-width="1"/><line x1="952" y1="669.5" x2="958" y2="669.5" stroke="#627e88" stroke-width="1"/><line x1="952" y1="678.5" x2="958" y2="678.5" stroke="#627e88" stroke-width="1"/><line x1="952" y1="687.5" x2="958" y2="687.5" stroke="#627e88" stroke-width="1"/><line x1="952" y1="696.5" x2="958" y2="696.5" stroke="#627e88" stroke-width="1"/><line x1="952" y1="705.5" x2="958" y2="705.5" stroke="#627e88" stroke-width="1"/><line x1="952" y1="714.5" x2="958" y2="714.5" stroke="#627e88" stroke-width="1"/><line x1="952" y1="723.5" x2="958" y2="723.5" stroke="#627e88" stroke-width="1"/><line x1="952" y1="732.5" x2="958" y2="732.5" stroke="#627e88" stroke-width="1"/><line x1="952" y1="741.5" x2="958" y2="741.5" stroke="#627e88" stroke-width="1"/><line x1="952" y1="750.5" x2="958" y2="750.5" stroke="#627e88" stroke-width="1"/><line x1="952" y1="759.5" x2="958" y2="759.5" stroke="#627e88" stroke-width="1"/><line x1="952" y1="768.5" x2="958" y2="768.5" stroke="#627e88" stroke-width="1"/><line x1="952" y1="777.5" x2="958" y2="777.5" stroke="#627e88" stroke-width="1"/><line x1="952" y1="786.5" x2="958" y2="786.5" stroke="#627e88" stroke-width="1"/><line x1="952" y1="795.5" x2="958" y2="795.5" stroke="#627e88" stroke-width="1"/><line x1="952" y1="803.5" x2="958" y2="803.5" stroke="#627e88" stroke-width="1"/><line x1="952" y1="812.5" x2="958" y2="812.5" stroke="#627e88" stroke-width="1"/><line x1="952" y1="821.5" x2="958" y2="821.5" stroke="#627e88" stroke-width="1"/><line x1="952" y1="830.5" x2="958" y2="830.5" stroke="#627e88" stroke-width="1"/><line x1="952" y1="839.5" x2="958" y2="839.5" stroke="#627e88" stroke-width="1"/><line x1="952" y1="848.5" x2="958" y2="848.5" stroke="#627e88" stroke-width="1"/><line x1="952" y1="857.5" x2="958" y2="857.5" stroke="#627e88" stroke-width="1"/><line x1="952" y1="866.5" x2="958" y2="866.5" stroke="#627e88" stroke-width="1"/></svg>
<div class="a ylab" style="left:908px;top:108.0px">7000</div>
<div class="a ylab" style="left:908px;top:135.0px">6895</div>
<div class="a ylab" style="left:908px;top:161.9px">6790</div>
<div class="a ylab" style="left:908px;top:188.9px">6685</div>
<div class="a ylab" style="left:908px;top:215.8px">6580</div>
<div class="a ylab" style="left:908px;top:242.8px">6475</div>
<div class="a ylab" style="left:908px;top:269.8px">6370</div>
<div class="a ylab" style="left:908px;top:296.7px">6265</div>
<div class="a ylab" style="left:908px;top:323.7px">6160</div>
<div class="a ylab" style="left:908px;top:350.6px">6055</div>
<div class="a ylab" style="left:908px;top:377.6px">5950</div>
<div class="a ylab" style="left:908px;top:404.6px">5845</div>
<div class="a ylab" style="left:908px;top:431.5px">5740</div>
<div class="a ylab" style="left:908px;top:458.5px">5635</div>
<div class="a ylab" style="left:908px;top:485.4px">5530</div>
<div class="a ylab" style="left:908px;top:512.4px">5425</div>
<div class="a ylab" style="left:908px;top:539.4px">5320</div>
<div class="a ylab" style="left:908px;top:566.3px">5215</div>
<div class="a ylab" style="left:908px;top:593.3px">5110</div>
<div class="a ylab" style="left:908px;top:620.2px">5005</div>
<div class="a ylab" style="left:908px;top:647.2px">4900</div>
<div class="a ylab" style="left:908px;top:674.2px">4795</div>
<div class="a ylab" style="left:908px;top:701.1px">4690</div>
<div class="a ylab" style="left:908px;top:728.1px">4585</div>
<div class="a ylab" style="left:908px;top:755.0px">4480</div>
<div class="a ylab" style="left:908px;top:782.0px">4375</div>
<div class="a ylab" style="left:908px;top:809.0px">4270</div>
<div class="a ylab" style="left:908px;top:835.9px">4165</div>
<div class="a ylab" style="left:908px;top:862.9px">4060</div>
<div class="a cbox" style="left:1214px;top:32px;width:290px"></div>
<div class="a cbr" style="left:1504px;top:32px"></div>
<div class="a tb" style="left:1352px;top:32px;width:152px"><span style="left:4px">1/1</span><span style="left:27px">1/2</span><span style="left:52px">1/3</span><span style="left:77px">1/4</span><svg style="position:absolute;left:102px;top:6px" width="10" height="9" viewBox="0 0 10 9" fill="none" stroke="#8b8f96" stroke-width="1"><line x1="0.8" y1="4.5" x2="9.2" y2="4.5"/><polyline points="4,1.2 0.8,4.5 4,7.8"/></svg><svg style="position:absolute;left:121px;top:8px" width="8" height="7" viewBox="0 0 8 7" fill="#e8ecf0"><rect x="0.5" y="0.6" width="2.6" height="1.2"/><rect x="4" y="0.6" width="2.6" height="1.2"/><rect x="0.5" y="2.8" width="2.6" height="1.2"/><rect x="4" y="2.8" width="2.6" height="1.2"/><rect x="0.5" y="5" width="2.6" height="1.2"/><rect x="4" y="5" width="2.6" height="1.2"/></svg><svg style="position:absolute;left:138px;top:6px" width="10" height="9" viewBox="0 0 10 9" fill="none" stroke="#8b8f96" stroke-width="1"><line x1="0.8" y1="4.5" x2="9.2" y2="4.5"/><polyline points="6,1.2 9.2,4.5 6,7.8"/></svg></div>
<div class="a ctitle mono" style="left:1254px;top:52.8px;width:200px;text-align:center">Gamma by OI</div>
<div class="a" style="left:1230px;top:77px;width:15px;height:15px;background:#aaaaaa"></div>
<div class="a leg mono fade" style="left:1250px;top:76.6px;width:144px">total_gamma_exposure</div>
<svg class="a" style="left:1400px;top:78px" width="13" height="13" viewBox="0 0 13 13"><polygon points="0,6.5 12,0 12,13" fill="#dddddd"/></svg>
<div class="a leg mono" style="left:1420px;top:76px">1 / 2</div>
<svg class="a" style="left:1467px;top:78px" width="13" height="13" viewBox="0 0 13 13"><polygon points="13,6.5 0,0 0,13" fill="#aaaaaa"/></svg>
<svg class="a" style="left:1265px;top:100px" width="10" height="770" viewBox="1265 100 10 770"><line x1="1273.5" y1="112" x2="1273.5" y2="870" stroke="#627e88" stroke-width="1"/><line x1="1267" y1="112.5" x2="1273" y2="112.5" stroke="#627e88" stroke-width="1"/><line x1="1267" y1="120.5" x2="1273" y2="120.5" stroke="#627e88" stroke-width="1"/><line x1="1267" y1="129.5" x2="1273" y2="129.5" stroke="#627e88" stroke-width="1"/><line x1="1267" y1="138.5" x2="1273" y2="138.5" stroke="#627e88" stroke-width="1"/><line x1="1267" y1="147.5" x2="1273" y2="147.5" stroke="#627e88" stroke-width="1"/><line x1="1267" y1="156.5" x2="1273" y2="156.5" stroke="#627e88" stroke-width="1"/><line x1="1267" y1="165.5" x2="1273" y2="165.5" stroke="#627e88" stroke-width="1"/><line x1="1267" y1="174.5" x2="1273" y2="174.5" stroke="#627e88" stroke-width="1"/><line x1="1267" y1="183.5" x2="1273" y2="183.5" stroke="#627e88" stroke-width="1"/><line x1="1267" y1="192.5" x2="1273" y2="192.5" stroke="#627e88" stroke-width="1"/><line x1="1267" y1="201.5" x2="1273" y2="201.5" stroke="#627e88" stroke-width="1"/><line x1="1267" y1="210.5" x2="1273" y2="210.5" stroke="#627e88" stroke-width="1"/><line x1="1267" y1="219.5" x2="1273" y2="219.5" stroke="#627e88" stroke-width="1"/><line x1="1267" y1="228.5" x2="1273" y2="228.5" stroke="#627e88" stroke-width="1"/><line x1="1267" y1="237.5" x2="1273" y2="237.5" stroke="#627e88" stroke-width="1"/><line x1="1267" y1="246.5" x2="1273" y2="246.5" stroke="#627e88" stroke-width="1"/><line x1="1267" y1="255.5" x2="1273" y2="255.5" stroke="#627e88" stroke-width="1"/><line x1="1267" y1="264.5" x2="1273" y2="264.5" stroke="#627e88" stroke-width="1"/><line x1="1267" y1="273.5" x2="1273" y2="273.5" stroke="#627e88" stroke-width="1"/><line x1="1267" y1="282.5" x2="1273" y2="282.5" stroke="#627e88" stroke-width="1"/><line x1="1267" y1="291.5" x2="1273" y2="291.5" stroke="#627e88" stroke-width="1"/><line x1="1267" y1="300.5" x2="1273" y2="300.5" stroke="#627e88" stroke-width="1"/><line x1="1267" y1="309.5" x2="1273" y2="309.5" stroke="#627e88" stroke-width="1"/><line x1="1267" y1="318.5" x2="1273" y2="318.5" stroke="#627e88" stroke-width="1"/><line x1="1267" y1="327.5" x2="1273" y2="327.5" stroke="#627e88" stroke-width="1"/><line x1="1267" y1="336.5" x2="1273" y2="336.5" stroke="#627e88" stroke-width="1"/><line x1="1267" y1="345.5" x2="1273" y2="345.5" stroke="#627e88" stroke-width="1"/><line x1="1267" y1="354.5" x2="1273" y2="354.5" stroke="#627e88" stroke-width="1"/><line x1="1267" y1="363.5" x2="1273" y2="363.5" stroke="#627e88" stroke-width="1"/><line x1="1267" y1="372.5" x2="1273" y2="372.5" stroke="#627e88" stroke-width="1"/><line x1="1267" y1="381.5" x2="1273" y2="381.5" stroke="#627e88" stroke-width="1"/><line x1="1267" y1="390.5" x2="1273" y2="390.5" stroke="#627e88" stroke-width="1"/><line x1="1267" y1="399.5" x2="1273" y2="399.5" stroke="#627e88" stroke-width="1"/><line x1="1267" y1="408.5" x2="1273" y2="408.5" stroke="#627e88" stroke-width="1"/><line x1="1267" y1="417.5" x2="1273" y2="417.5" stroke="#627e88" stroke-width="1"/><line x1="1267" y1="426.5" x2="1273" y2="426.5" stroke="#627e88" stroke-width="1"/><line x1="1267" y1="435.5" x2="1273" y2="435.5" stroke="#627e88" stroke-width="1"/><line x1="1267" y1="444.5" x2="1273" y2="444.5" stroke="#627e88" stroke-width="1"/><line x1="1267" y1="453.5" x2="1273" y2="453.5" stroke="#627e88" stroke-width="1"/><line x1="1267" y1="462.5" x2="1273" y2="462.5" stroke="#627e88" stroke-width="1"/><line x1="1267" y1="471.5" x2="1273" y2="471.5" stroke="#627e88" stroke-width="1"/><line x1="1267" y1="480.5" x2="1273" y2="480.5" stroke="#627e88" stroke-width="1"/><line x1="1267" y1="489.5" x2="1273" y2="489.5" stroke="#627e88" stroke-width="1"/><line x1="1267" y1="498.5" x2="1273" y2="498.5" stroke="#627e88" stroke-width="1"/><line x1="1267" y1="507.5" x2="1273" y2="507.5" stroke="#627e88" stroke-width="1"/><line x1="1267" y1="516.5" x2="1273" y2="516.5" stroke="#627e88" stroke-width="1"/><line x1="1267" y1="525.5" x2="1273" y2="525.5" stroke="#627e88" stroke-width="1"/><line x1="1267" y1="534.5" x2="1273" y2="534.5" stroke="#627e88" stroke-width="1"/><line x1="1267" y1="543.5" x2="1273" y2="543.5" stroke="#627e88" stroke-width="1"/><line x1="1267" y1="552.5" x2="1273" y2="552.5" stroke="#627e88" stroke-width="1"/><line x1="1267" y1="561.5" x2="1273" y2="561.5" stroke="#627e88" stroke-width="1"/><line x1="1267" y1="570.5" x2="1273" y2="570.5" stroke="#627e88" stroke-width="1"/><line x1="1267" y1="579.5" x2="1273" y2="579.5" stroke="#627e88" stroke-width="1"/><line x1="1267" y1="588.5" x2="1273" y2="588.5" stroke="#627e88" stroke-width="1"/><line x1="1267" y1="597.5" x2="1273" y2="597.5" stroke="#627e88" stroke-width="1"/><line x1="1267" y1="606.5" x2="1273" y2="606.5" stroke="#627e88" stroke-width="1"/><line x1="1267" y1="615.5" x2="1273" y2="615.5" stroke="#627e88" stroke-width="1"/><line x1="1267" y1="624.5" x2="1273" y2="624.5" stroke="#627e88" stroke-width="1"/><line x1="1267" y1="633.5" x2="1273" y2="633.5" stroke="#627e88" stroke-width="1"/><line x1="1267" y1="642.5" x2="1273" y2="642.5" stroke="#627e88" stroke-width="1"/><line x1="1267" y1="651.5" x2="1273" y2="651.5" stroke="#627e88" stroke-width="1"/><line x1="1267" y1="660.5" x2="1273" y2="660.5" stroke="#627e88" stroke-width="1"/><line x1="1267" y1="669.5" x2="1273" y2="669.5" stroke="#627e88" stroke-width="1"/><line x1="1267" y1="678.5" x2="1273" y2="678.5" stroke="#627e88" stroke-width="1"/><line x1="1267" y1="687.5" x2="1273" y2="687.5" stroke="#627e88" stroke-width="1"/><line x1="1267" y1="696.5" x2="1273" y2="696.5" stroke="#627e88" stroke-width="1"/><line x1="1267" y1="705.5" x2="1273" y2="705.5" stroke="#627e88" stroke-width="1"/><line x1="1267" y1="714.5" x2="1273" y2="714.5" stroke="#627e88" stroke-width="1"/><line x1="1267" y1="723.5" x2="1273" y2="723.5" stroke="#627e88" stroke-width="1"/><line x1="1267" y1="732.5" x2="1273" y2="732.5" stroke="#627e88" stroke-width="1"/><line x1="1267" y1="741.5" x2="1273" y2="741.5" stroke="#627e88" stroke-width="1"/><line x1="1267" y1="750.5" x2="1273" y2="750.5" stroke="#627e88" stroke-width="1"/><line x1="1267" y1="759.5" x2="1273" y2="759.5" stroke="#627e88" stroke-width="1"/><line x1="1267" y1="768.5" x2="1273" y2="768.5" stroke="#627e88" stroke-width="1"/><line x1="1267" y1="777.5" x2="1273" y2="777.5" stroke="#627e88" stroke-width="1"/><line x1="1267" y1="786.5" x2="1273" y2="786.5" stroke="#627e88" stroke-width="1"/><line x1="1267" y1="795.5" x2="1273" y2="795.5" stroke="#627e88" stroke-width="1"/><line x1="1267" y1="803.5" x2="1273" y2="803.5" stroke="#627e88" stroke-width="1"/><line x1="1267" y1="812.5" x2="1273" y2="812.5" stroke="#627e88" stroke-width="1"/><line x1="1267" y1="821.5" x2="1273" y2="821.5" stroke="#627e88" stroke-width="1"/><line x1="1267" y1="830.5" x2="1273" y2="830.5" stroke="#627e88" stroke-width="1"/><line x1="1267" y1="839.5" x2="1273" y2="839.5" stroke="#627e88" stroke-width="1"/><line x1="1267" y1="848.5" x2="1273" y2="848.5" stroke="#627e88" stroke-width="1"/><line x1="1267" y1="857.5" x2="1273" y2="857.5" stroke="#627e88" stroke-width="1"/><line x1="1267" y1="866.5" x2="1273" y2="866.5" stroke="#627e88" stroke-width="1"/></svg>
<div class="a ylab" style="left:1223px;top:108.0px">7000</div>
<div class="a ylab" style="left:1223px;top:135.0px">6895</div>
<div class="a ylab" style="left:1223px;top:161.9px">6790</div>
<div class="a ylab" style="left:1223px;top:188.9px">6685</div>
<div class="a ylab" style="left:1223px;top:215.8px">6580</div>
<div class="a ylab" style="left:1223px;top:242.8px">6475</div>
<div class="a ylab" style="left:1223px;top:269.8px">6370</div>
<div class="a ylab" style="left:1223px;top:296.7px">6265</div>
<div class="a ylab" style="left:1223px;top:323.7px">6160</div>
<div class="a ylab" style="left:1223px;top:350.6px">6055</div>
<div class="a ylab" style="left:1223px;top:377.6px">5950</div>
<div class="a ylab" style="left:1223px;top:404.6px">5845</div>
<div class="a ylab" style="left:1223px;top:431.5px">5740</div>
<div class="a ylab" style="left:1223px;top:458.5px">5635</div>
<div class="a ylab" style="left:1223px;top:485.4px">5530</div>
<div class="a ylab" style="left:1223px;top:512.4px">5425</div>
<div class="a ylab" style="left:1223px;top:539.4px">5320</div>
<div class="a ylab" style="left:1223px;top:566.3px">5215</div>
<div class="a ylab" style="left:1223px;top:593.3px">5110</div>
<div class="a ylab" style="left:1223px;top:620.2px">5005</div>
<div class="a ylab" style="left:1223px;top:647.2px">4900</div>
<div class="a ylab" style="left:1223px;top:674.2px">4795</div>
<div class="a ylab" style="left:1223px;top:701.1px">4690</div>
<div class="a ylab" style="left:1223px;top:728.1px">4585</div>
<div class="a ylab" style="left:1223px;top:755.0px">4480</div>
<div class="a ylab" style="left:1223px;top:782.0px">4375</div>
<div class="a ylab" style="left:1223px;top:809.0px">4270</div>
<div class="a ylab" style="left:1223px;top:835.9px">4165</div>
<div class="a ylab" style="left:1223px;top:862.9px">4060</div>
<svg class="a" style="left:296px;top:437px" width="102" height="102" viewBox="0 0 102 102"><rect x="0" y="0" width="102" height="101" fill="rgba(255,255,255,0.03)"/><rect x="11" y="49" width="42" height="41" fill="rgba(0,0,0,0.06)"/><line x1="59" y1="41" x2="96" y2="5" stroke="rgba(0,0,0,0.07)" stroke-width="2"/></svg>
<div class="a" style="left:413px;top:466px;font-size:25.5px;line-height:29px;color:rgba(255,255,255,0.03);white-space:nowrap">TrueScale</div>
<div class="a" style="left:413px;top:494px;font-size:19px;line-height:22px;color:rgba(255,255,255,0.03);white-space:nowrap">Truescale.uk</div>
<svg class="a" style="left:611px;top:437px" width="102" height="102" viewBox="0 0 102 102"><rect x="0" y="0" width="102" height="101" fill="rgba(255,255,255,0.03)"/><rect x="11" y="49" width="42" height="41" fill="rgba(0,0,0,0.06)"/><line x1="59" y1="41" x2="96" y2="5" stroke="rgba(0,0,0,0.07)" stroke-width="2"/></svg>
<div class="a" style="left:728px;top:466px;font-size:25.5px;line-height:29px;color:rgba(255,255,255,0.03);white-space:nowrap">TrueScale</div>
<div class="a" style="left:728px;top:494px;font-size:19px;line-height:22px;color:rgba(255,255,255,0.03);white-space:nowrap">Truescale.uk</div>
<svg class="a" style="left:927px;top:437px" width="102" height="102" viewBox="0 0 102 102"><rect x="0" y="0" width="102" height="101" fill="rgba(255,255,255,0.03)"/><rect x="11" y="49" width="42" height="41" fill="rgba(0,0,0,0.06)"/><line x1="59" y1="41" x2="96" y2="5" stroke="rgba(0,0,0,0.07)" stroke-width="2"/></svg>
<div class="a" style="left:1044px;top:466px;font-size:25.5px;line-height:29px;color:rgba(255,255,255,0.03);white-space:nowrap">TrueScale</div>
<div class="a" style="left:1044px;top:494px;font-size:19px;line-height:22px;color:rgba(255,255,255,0.03);white-space:nowrap">Truescale.uk</div>
<svg class="a" style="left:1242px;top:437px" width="102" height="102" viewBox="0 0 102 102"><rect x="0" y="0" width="102" height="101" fill="rgba(255,255,255,0.03)"/><rect x="11" y="49" width="42" height="41" fill="rgba(0,0,0,0.06)"/><line x1="59" y1="41" x2="96" y2="5" stroke="rgba(0,0,0,0.07)" stroke-width="2"/></svg>
<div class="a" style="left:1359px;top:466px;font-size:25.5px;line-height:29px;color:rgba(255,255,255,0.03);white-space:nowrap">TrueScale</div>
<div class="a" style="left:1359px;top:494px;font-size:19px;line-height:22px;color:rgba(255,255,255,0.03);white-space:nowrap">Truescale.uk</div>
<svg class="a" style="left:0;top:0" width="1555" height="864" viewBox="0 0 1555 864"><rect x="327.5" y="284.0" width="206.5" height="2" fill="#8c969e"/><rect x="430.3" y="111.3" width="1.4" height="1.4" fill="#4bdc4b"/><rect x="430.3" y="163.3" width="1.4" height="1.4" fill="#4bdc4b"/><rect x="430.3" y="169.7" width="1.4" height="1.4" fill="#4bdc4b"/><rect x="430.3" y="195.3" width="1.4" height="1.4" fill="#4bdc4b"/><rect x="430.3" y="209.3" width="1.4" height="1.4" fill="#4bdc4b"/><rect x="430.3" y="217.3" width="1.4" height="1.4" fill="#4bdc4b"/><rect x="430.3" y="221.3" width="1.4" height="1.4" fill="#4bdc4b"/><rect x="430.3" y="227.3" width="1.4" height="1.4" fill="#4bdc4b"/><rect x="430.3" y="355.3" width="1.4" height="1.4" fill="#4bdc4b"/><rect x="430.3" y="361.3" width="1.4" height="1.4" fill="#4bdc4b"/><rect x="430.3" y="365.6" width="1.4" height="1.4" fill="#4bdc4b"/><rect x="430.3" y="370.3" width="1.4" height="1.4" fill="#4bdc4b"/><rect x="430.3" y="374.8" width="1.4" height="1.4" fill="#4bdc4b"/><rect x="430.3" y="381.3" width="1.4" height="1.4" fill="#4bdc4b"/><rect x="430.3" y="387.8" width="1.4" height="1.4" fill="#4bdc4b"/><rect x="430.3" y="391.5" width="1.4" height="1.4" fill="#4bdc4b"/><rect x="430.3" y="394.3" width="1.4" height="1.4" fill="#4bdc4b"/><rect x="430.3" y="445.3" width="1.4" height="1.4" fill="#4bdc4b"/><rect x="430.3" y="451.7" width="1.4" height="1.4" fill="#4bdc4b"/><rect x="430.3" y="470.7" width="1.4" height="1.4" fill="#4bdc4b"/><rect x="430.3" y="496.8" width="1.4" height="1.4" fill="#4bdc4b"/><rect x="430.3" y="522.3" width="1.4" height="1.4" fill="#4bdc4b"/><rect x="430.3" y="535.0" width="1.4" height="1.4" fill="#4bdc4b"/><rect x="430.3" y="727.3" width="1.4" height="1.4" fill="#4bdc4b"/><rect x="430.6" y="228.2" width="1.0" height="1.5" fill="#4bdc4b"/><rect x="430.6" y="231.2" width="1.0" height="1.5" fill="#4bdc4b"/><rect x="430.6" y="234.2" width="1.0" height="1.5" fill="#4bdc4b"/><rect x="430.6" y="237.2" width="1.0" height="1.5" fill="#4bdc4b"/><polygon points="431.0,270.0 429.0,271.0 428.0,276.0 427.5,281.0 423.0,283.0 421.0,285.0 418.0,289.0 419.0,300.0 420.0,310.0 419.0,320.0 418.0,330.0 422.0,336.0 425.0,340.0 427.0,349.0 431.0,350.0" fill="#b00000"/><rect x="427.2" y="280.9" width="3.8" height="2.2" fill="#b00000"/><rect x="421.7" y="283.4" width="9.3" height="2.2" fill="#b00000"/><rect x="421.7" y="285.9" width="9.3" height="2.2" fill="#b00000"/><rect x="417.5" y="288.4" width="13.5" height="2.2" fill="#b00000"/><rect x="410.5" y="289.9" width="20.5" height="2.2" fill="#b00000"/><rect x="362.3" y="292.4" width="68.7" height="2.2" fill="#b00000"/><rect x="371.7" y="293.9" width="59.3" height="2.2" fill="#b00000"/><rect x="408.5" y="295.4" width="22.5" height="2.2" fill="#b00000"/><rect x="420.0" y="296.9" width="11.0" height="2.2" fill="#b00000"/><rect x="416.0" y="297.9" width="15.0" height="2.2" fill="#b00000"/><rect x="422.0" y="299.9" width="9.0" height="2.2" fill="#b00000"/><rect x="424.0" y="301.9" width="7.0" height="2.2" fill="#b00000"/><rect x="408.5" y="303.9" width="22.5" height="2.2" fill="#b00000"/><rect x="422.0" y="305.9" width="9.0" height="2.2" fill="#b00000"/><rect x="420.3" y="307.9" width="10.7" height="2.2" fill="#b00000"/><rect x="418.0" y="310.9" width="13.0" height="2.2" fill="#b00000"/><rect x="420.0" y="313.9" width="11.0" height="2.2" fill="#b00000"/><rect x="394.2" y="316.7" width="36.8" height="2.2" fill="#b00000"/><rect x="409.2" y="319.4" width="21.8" height="2.2" fill="#b00000"/><rect x="422.0" y="320.9" width="9.0" height="2.2" fill="#b00000"/><rect x="417.0" y="322.9" width="14.0" height="2.2" fill="#b00000"/><rect x="418.5" y="325.9" width="12.5" height="2.2" fill="#b00000"/><rect x="412.0" y="329.4" width="19.0" height="2.2" fill="#b00000"/><rect x="425.0" y="331.9" width="6.0" height="2.2" fill="#b00000"/><rect x="417.0" y="333.9" width="14.0" height="2.2" fill="#b00000"/><rect x="392.2" y="335.9" width="38.8" height="2.2" fill="#b00000"/><rect x="425.0" y="337.9" width="6.0" height="2.2" fill="#b00000"/><rect x="427.0" y="339.9" width="4.0" height="2.2" fill="#b00000"/><rect x="396.0" y="342.4" width="35.0" height="2.2" fill="#b00000"/><rect x="413.0" y="344.9" width="18.0" height="2.2" fill="#b00000"/><rect x="427.3" y="347.9" width="3.7" height="2.2" fill="#b00000"/><rect x="405.0" y="355.4" width="26.0" height="2.2" fill="#b00000"/><rect x="419.2" y="360.4" width="11.8" height="2.2" fill="#b00000"/><rect x="412.3" y="367.9" width="18.7" height="2.2" fill="#b00000"/><rect x="425.6" y="374.4" width="5.4" height="2.2" fill="#b00000"/><rect x="416.0" y="380.9" width="15.0" height="2.2" fill="#b00000"/><rect x="426.9" y="387.4" width="4.1" height="2.2" fill="#b00000"/><rect x="424.4" y="393.9" width="6.6" height="2.2" fill="#b00000"/><rect x="428.0" y="268.9" width="3.0" height="2.2" fill="#b00000"/><rect x="428.5" y="272.9" width="2.5" height="2.2" fill="#b00000"/><rect x="427.5" y="274.9" width="3.5" height="2.2" fill="#b00000"/><rect x="427.0" y="276.9" width="4.0" height="2.2" fill="#b00000"/><rect x="427.0" y="278.9" width="4.0" height="2.2" fill="#b00000"/><rect x="431.0" y="239.9" width="88.0" height="2.1" fill="#4bdc4b"/><rect x="431.0" y="243.0" width="3.0" height="1.6" fill="#4bdc4b"/><rect x="431.0" y="249.1" width="4.0" height="1.8" fill="#4bdc4b"/><rect x="428.0" y="252.6" width="10.0" height="2" fill="#4bdc4b"/><rect x="428.0" y="255.5" width="3.0" height="1.6" fill="#4bdc4b"/><rect x="429.0" y="258.9" width="7.5" height="2" fill="#4bdc4b"/><rect x="414.0" y="260.6" width="17.0" height="2" fill="#4bdc4b"/><rect x="414.0" y="262.9" width="17.0" height="2.2" fill="#4bdc4b"/><rect x="403.0" y="265.5" width="28.0" height="2.2" fill="#4bdc4b"/><rect x="414.0" y="261.8" width="17.0" height="2" fill="#4bdc4b"/><rect x="426.0" y="267.9" width="5.0" height="2" fill="#4bdc4b"/><rect x="431.0" y="272.7" width="8.0" height="2" fill="#4bdc4b"/><rect x="431.0" y="274.0" width="9.0" height="2" fill="#4bdc4b"/><rect x="431.0" y="275.3" width="26.0" height="2" fill="#4bdc4b"/><rect x="431.0" y="276.9" width="32.0" height="2.2" fill="#4bdc4b"/><rect x="431.0" y="278.7" width="10.0" height="2" fill="#4bdc4b"/><rect x="431.0" y="280.2" width="11.0" height="2" fill="#4bdc4b"/><rect x="431.0" y="282.0" width="5.0" height="2" fill="#4bdc4b"/><rect x="431.0" y="284.0" width="6.0" height="2" fill="#4bdc4b"/><rect x="431.0" y="286.0" width="3.0" height="2" fill="#4bdc4b"/><rect x="431.0" y="288.0" width="2.0" height="2" fill="#4bdc4b"/><rect x="431.0" y="290.0" width="2.0" height="2" fill="#4bdc4b"/><rect x="431.0" y="292.0" width="1.0" height="2" fill="#4bdc4b"/><rect x="431.0" y="294.2" width="1.0" height="1.5" fill="#4bdc4b"/><rect x="431.0" y="297.2" width="1.0" height="1.5" fill="#4bdc4b"/><rect x="401.8" y="265.6" width="2.4" height="2" fill="#b00000"/><rect x="412.8" y="260.6" width="2.4" height="2" fill="#b00000"/><rect x="428.8" y="249.0" width="2.4" height="2" fill="#b00000"/><rect x="425.8" y="255.3" width="2.4" height="2" fill="#b00000"/><rect x="428.8" y="256.6" width="2.4" height="2" fill="#b00000"/><rect x="429.3" y="262.0" width="2.4" height="2" fill="#b00000"/><rect x="423.8" y="267.9" width="2.4" height="2" fill="#b00000"/><rect x="427.8" y="269.3" width="2.4" height="2" fill="#b00000"/><rect x="643.0" y="284.0" width="206.0" height="2" fill="#8c969e"/><polygon points="658.0,284.5 668.0,286.0 676.0,287.0 664.0,289.0 661.0,291.0 663.0,297.0 654.0,299.0 650.0,301.0 647.0,305.0 647.5,320.0 646.5,335.0 645.5,349.0 643.0,350.0 643.0,295.0 645.0,290.0 651.0,288.0" fill="#ee6666"/><polygon points="643.0,258.0 650.0,259.0 658.0,259.5 662.0,261.0 667.0,263.0 672.0,264.5 675.0,266.0 661.0,268.0 666.0,270.0 672.0,271.5 680.0,273.0 696.0,274.5 700.0,276.0 690.0,278.0 684.0,279.5 665.0,281.0 663.0,282.5 659.0,284.0 658.0,286.0 651.0,288.0 646.0,290.0 645.0,292.0 644.0,294.0 643.0,295.0" fill="#4bdc4b"/><rect x="643.5" y="195.0" width="2.0" height="2" fill="#ee6666"/><rect x="643.0" y="216.7" width="2.0" height="2" fill="#ee6666"/><rect x="643.0" y="220.3" width="3.0" height="2" fill="#4bdc4b"/><rect x="646.0" y="220.3" width="2.0" height="2" fill="#ee6666"/><rect x="643.0" y="222.0" width="4.0" height="2" fill="#4bdc4b"/><rect x="647.0" y="222.0" width="2.0" height="2" fill="#ee6666"/><rect x="643.0" y="227.0" width="6.0" height="2" fill="#4bdc4b"/><rect x="649.0" y="227.0" width="3.0" height="2" fill="#ee6666"/><rect x="643.0" y="229.8" width="8.0" height="2" fill="#4bdc4b"/><rect x="651.0" y="229.8" width="2.0" height="2" fill="#ee6666"/><rect x="643.0" y="231.0" width="1.0" height="2" fill="#4bdc4b"/><rect x="644.0" y="231.0" width="2.0" height="2" fill="#ee6666"/><rect x="643.0" y="232.5" width="3.0" height="2" fill="#4bdc4b"/><rect x="646.0" y="232.5" width="3.0" height="2" fill="#ee6666"/><rect x="643.0" y="233.5" width="5.0" height="2" fill="#4bdc4b"/><rect x="648.0" y="233.5" width="2.0" height="2" fill="#ee6666"/><rect x="643.0" y="235.0" width="2.0" height="2" fill="#4bdc4b"/><rect x="645.0" y="235.0" width="3.0" height="2" fill="#ee6666"/><rect x="643.0" y="237.5" width="5.0" height="2" fill="#4bdc4b"/><rect x="648.0" y="237.5" width="2.0" height="2" fill="#ee6666"/><rect x="643.0" y="238.7" width="2.0" height="2" fill="#ee6666"/><rect x="643.0" y="240.2" width="173.0" height="2" fill="#4bdc4b"/><rect x="816.0" y="240.2" width="4.0" height="2" fill="#ee6666"/><rect x="643.0" y="242.5" width="4.0" height="2" fill="#4bdc4b"/><rect x="647.0" y="242.5" width="3.0" height="2" fill="#ee6666"/><rect x="643.0" y="244.0" width="4.0" height="2" fill="#4bdc4b"/><rect x="647.0" y="244.0" width="3.0" height="2" fill="#ee6666"/><rect x="643.0" y="245.2" width="27.0" height="2" fill="#4bdc4b"/><rect x="670.0" y="245.2" width="2.0" height="2" fill="#ee6666"/><rect x="643.0" y="246.6" width="35.0" height="2" fill="#4bdc4b"/><rect x="678.0" y="246.6" width="2.0" height="2" fill="#ee6666"/><rect x="643.0" y="248.0" width="1.0" height="2" fill="#4bdc4b"/><rect x="644.0" y="248.0" width="3.0" height="2" fill="#ee6666"/><rect x="643.0" y="249.0" width="4.0" height="2" fill="#4bdc4b"/><rect x="647.0" y="249.0" width="2.0" height="2" fill="#ee6666"/><rect x="643.0" y="250.0" width="2.0" height="2" fill="#4bdc4b"/><rect x="645.0" y="250.0" width="3.0" height="2" fill="#ee6666"/><rect x="643.0" y="251.0" width="2.0" height="2" fill="#ee6666"/><rect x="643.0" y="252.5" width="15.0" height="2" fill="#4bdc4b"/><rect x="658.0" y="252.5" width="2.0" height="2" fill="#ee6666"/><rect x="643.0" y="254.0" width="1.0" height="2" fill="#4bdc4b"/><rect x="644.0" y="254.0" width="2.0" height="2" fill="#ee6666"/><rect x="643.0" y="255.0" width="4.0" height="2" fill="#4bdc4b"/><rect x="647.0" y="255.0" width="2.0" height="2" fill="#ee6666"/><rect x="643.0" y="256.0" width="2.0" height="2" fill="#ee6666"/><rect x="643.0" y="257.0" width="3.0" height="2" fill="#4bdc4b"/><rect x="646.0" y="257.0" width="2.0" height="2" fill="#ee6666"/><rect x="643.0" y="259.0" width="14.0" height="2" fill="#4bdc4b"/><rect x="657.0" y="259.0" width="3.0" height="2" fill="#ee6666"/><rect x="643.0" y="260.0" width="17.0" height="2" fill="#4bdc4b"/><rect x="660.0" y="260.0" width="3.0" height="2" fill="#ee6666"/><rect x="643.0" y="261.5" width="21.0" height="2" fill="#4bdc4b"/><rect x="664.0" y="261.5" width="3.0" height="2" fill="#ee6666"/><rect x="643.0" y="263.0" width="27.0" height="2" fill="#4bdc4b"/><rect x="670.0" y="263.0" width="4.0" height="2" fill="#ee6666"/><rect x="643.0" y="264.3" width="25.0" height="2" fill="#4bdc4b"/><rect x="668.0" y="264.3" width="3.0" height="2" fill="#ee6666"/><rect x="643.0" y="265.6" width="64.0" height="2" fill="#4bdc4b"/><rect x="707.0" y="265.6" width="5.0" height="2" fill="#ee6666"/><rect x="643.0" y="267.0" width="7.0" height="2" fill="#4bdc4b"/><rect x="650.0" y="267.0" width="3.0" height="2" fill="#ee6666"/><rect x="643.0" y="268.0" width="16.0" height="2" fill="#4bdc4b"/><rect x="659.0" y="268.0" width="3.0" height="2" fill="#ee6666"/><rect x="643.0" y="269.0" width="22.0" height="2" fill="#4bdc4b"/><rect x="665.0" y="269.0" width="3.0" height="2" fill="#ee6666"/><rect x="643.0" y="270.5" width="28.0" height="2" fill="#4bdc4b"/><rect x="671.0" y="270.5" width="4.0" height="2" fill="#ee6666"/><rect x="643.0" y="272.0" width="22.0" height="2" fill="#4bdc4b"/><rect x="665.0" y="272.0" width="6.0" height="2" fill="#ee6666"/><rect x="643.0" y="273.2" width="37.0" height="2" fill="#4bdc4b"/><rect x="680.0" y="273.2" width="6.0" height="2" fill="#ee6666"/><rect x="643.0" y="274.3" width="53.0" height="2" fill="#4bdc4b"/><rect x="696.0" y="274.3" width="4.0" height="2" fill="#ee6666"/><rect x="643.0" y="275.8" width="125.0" height="2" fill="#4bdc4b"/><rect x="768.0" y="275.8" width="6.0" height="2" fill="#ee6666"/><rect x="643.0" y="277.3" width="151.0" height="2" fill="#4bdc4b"/><rect x="794.0" y="277.3" width="5.0" height="2" fill="#ee6666"/><rect x="643.0" y="278.4" width="41.0" height="2" fill="#4bdc4b"/><rect x="684.0" y="278.4" width="7.0" height="2" fill="#ee6666"/><rect x="643.0" y="280.0" width="29.0" height="2" fill="#4bdc4b"/><rect x="672.0" y="280.0" width="3.0" height="2" fill="#ee6666"/><rect x="643.0" y="281.5" width="22.0" height="2" fill="#4bdc4b"/><rect x="665.0" y="281.5" width="6.0" height="2" fill="#ee6666"/><rect x="643.0" y="283.0" width="17.0" height="2" fill="#4bdc4b"/><rect x="660.0" y="283.0" width="8.0" height="2" fill="#ee6666"/><rect x="643.0" y="284.3" width="24.0" height="2" fill="#4bdc4b"/><rect x="667.0" y="284.3" width="10.0" height="2" fill="#ee6666"/><rect x="643.0" y="285.9" width="25.0" height="2.2" fill="#ee6666"/><rect x="643.0" y="287.9" width="21.0" height="2.2" fill="#ee6666"/><rect x="643.0" y="290.1" width="36.0" height="2.2" fill="#ee6666"/><rect x="643.0" y="292.4" width="70.0" height="2.2" fill="#ee6666"/><rect x="643.0" y="293.9" width="57.0" height="2.2" fill="#ee6666"/><rect x="643.0" y="295.9" width="20.0" height="2.2" fill="#ee6666"/><rect x="643.0" y="297.9" width="11.0" height="2.2" fill="#ee6666"/><rect x="643.0" y="299.9" width="7.0" height="2.2" fill="#ee6666"/><rect x="643.0" y="303.9" width="5.0" height="2.2" fill="#ee6666"/><rect x="643.0" y="304.4" width="15.5" height="2.2" fill="#ee6666"/><rect x="643.0" y="306.4" width="6.0" height="2.2" fill="#ee6666"/><rect x="643.0" y="308.9" width="10.0" height="2.2" fill="#ee6666"/><rect x="643.0" y="311.9" width="12.0" height="2.2" fill="#ee6666"/><rect x="643.0" y="313.9" width="11.0" height="2.2" fill="#ee6666"/><rect x="643.0" y="316.4" width="10.0" height="2.2" fill="#ee6666"/><rect x="643.0" y="317.4" width="24.5" height="2.2" fill="#ee6666"/><rect x="643.0" y="318.9" width="9.0" height="2.2" fill="#ee6666"/><rect x="643.0" y="320.4" width="11.0" height="2.2" fill="#ee6666"/><rect x="643.0" y="322.9" width="6.0" height="2.2" fill="#ee6666"/><rect x="643.0" y="325.9" width="3.0" height="2.2" fill="#ee6666"/><rect x="643.0" y="326.4" width="10.0" height="2.2" fill="#ee6666"/><rect x="643.0" y="328.4" width="13.0" height="2.2" fill="#ee6666"/><rect x="643.0" y="329.9" width="11.0" height="2.2" fill="#ee6666"/><rect x="643.0" y="331.9" width="3.0" height="2.2" fill="#ee6666"/><rect x="643.0" y="334.4" width="7.0" height="2.2" fill="#ee6666"/><rect x="643.0" y="335.9" width="12.0" height="2.2" fill="#ee6666"/><rect x="643.0" y="337.9" width="13.0" height="2.2" fill="#ee6666"/><rect x="643.0" y="339.4" width="7.0" height="2.2" fill="#ee6666"/><rect x="643.0" y="341.9" width="6.0" height="2.2" fill="#ee6666"/><rect x="643.0" y="343.9" width="18.0" height="2.2" fill="#ee6666"/><rect x="643.0" y="345.4" width="12.0" height="2.2" fill="#ee6666"/><rect x="643.0" y="347.9" width="2.0" height="2.2" fill="#ee6666"/><rect x="643.0" y="349.4" width="4.0" height="2.2" fill="#ee6666"/><rect x="643.0" y="354.9" width="7.0" height="2.2" fill="#ee6666"/><rect x="643.0" y="359.9" width="1.0" height="2.2" fill="#ee6666"/><rect x="643.0" y="361.4" width="35.5" height="2.2" fill="#ee6666"/><rect x="643.0" y="364.9" width="4.0" height="2.2" fill="#ee6666"/><rect x="643.0" y="366.9" width="7.0" height="2.2" fill="#ee6666"/><rect x="643.0" y="369.9" width="8.0" height="2.2" fill="#ee6666"/><rect x="643.0" y="372.9" width="4.0" height="2.2" fill="#ee6666"/><rect x="643.0" y="375.9" width="3.0" height="2.2" fill="#ee6666"/><rect x="643.0" y="380.9" width="4.0" height="2.2" fill="#ee6666"/><rect x="643.0" y="386.9" width="5.0" height="2.2" fill="#ee6666"/><rect x="643.0" y="390.9" width="1.0" height="2.2" fill="#ee6666"/><rect x="643.0" y="393.9" width="4.0" height="2.2" fill="#ee6666"/><rect x="643.0" y="444.9" width="6.4" height="2.2" fill="#ee6666"/><rect x="643.0" y="451.5" width="3.7" height="2.2" fill="#ee6666"/><rect x="643.0" y="470.8" width="45.8" height="2.2" fill="#ee6666"/><rect x="643.0" y="496.3" width="27.1" height="2.2" fill="#ee6666"/><rect x="643.0" y="521.9" width="35.4" height="2.2" fill="#ee6666"/><rect x="643.0" y="534.9" width="8.5" height="2.2" fill="#ee6666"/><rect x="643.0" y="726.9" width="20.0" height="2.2" fill="#ee6666"/><polygon points="643.0,283.0 659.0,284.0 658.0,286.0 651.0,288.0 646.0,290.0 645.0,292.0 644.0,294.0 643.0,296.0" fill="#4bdc4b"/><rect x="958.5" y="284.0" width="137.5" height="2" fill="#8c969e"/><rect x="1164.0" y="111.1" width="2.0" height="1.8" fill="#00bcff"/><rect x="1164.0" y="163.1" width="2.0" height="1.8" fill="#00bcff"/><rect x="1164.0" y="169.5" width="2.0" height="1.8" fill="#00bcff"/><rect x="1164.0" y="195.1" width="2.0" height="1.8" fill="#00bcff"/><rect x="1164.0" y="209.1" width="2.0" height="1.8" fill="#00bcff"/><rect x="1164.0" y="217.1" width="2.0" height="1.8" fill="#00bcff"/><rect x="1164.0" y="221.1" width="2.0" height="1.8" fill="#00bcff"/><rect x="1164.0" y="227.1" width="2.0" height="1.8" fill="#00bcff"/><rect x="1164.0" y="355.1" width="2.0" height="1.8" fill="#00bcff"/><rect x="1164.0" y="361.1" width="2.0" height="1.8" fill="#00bcff"/><rect x="1164.0" y="365.4" width="2.0" height="1.8" fill="#00bcff"/><rect x="1164.0" y="370.1" width="2.0" height="1.8" fill="#00bcff"/><rect x="1164.0" y="374.6" width="2.0" height="1.8" fill="#00bcff"/><rect x="1164.0" y="381.1" width="2.0" height="1.8" fill="#00bcff"/><rect x="1164.0" y="387.6" width="2.0" height="1.8" fill="#00bcff"/><rect x="1164.0" y="391.3" width="2.0" height="1.8" fill="#00bcff"/><rect x="1164.0" y="394.1" width="2.0" height="1.8" fill="#00bcff"/><rect x="1164.0" y="445.1" width="2.0" height="1.8" fill="#00bcff"/><rect x="1164.0" y="451.5" width="2.0" height="1.8" fill="#00bcff"/><rect x="1164.0" y="470.5" width="2.0" height="1.8" fill="#00bcff"/><rect x="1164.0" y="496.6" width="2.0" height="1.8" fill="#00bcff"/><rect x="1164.0" y="522.1" width="2.0" height="1.8" fill="#00bcff"/><rect x="1164.0" y="534.8" width="2.0" height="1.8" fill="#00bcff"/><rect x="1164.0" y="727.1" width="2.0" height="1.8" fill="#00bcff"/><rect x="1160.0" y="535.0" width="6.0" height="2" fill="#00bcff"/><rect x="1163.5" y="313.0" width="2.5" height="40" fill="#00bcff"/><rect x="1164.0" y="228.3" width="2.0" height="1.4" fill="#00bcff"/><rect x="1164.0" y="230.3" width="2.0" height="1.4" fill="#00bcff"/><rect x="1164.0" y="232.3" width="2.0" height="1.4" fill="#00bcff"/><rect x="1164.0" y="234.3" width="2.0" height="1.4" fill="#00bcff"/><rect x="1164.0" y="236.3" width="2.0" height="1.4" fill="#00bcff"/><rect x="1164.0" y="238.3" width="2.0" height="1.4" fill="#00bcff"/><rect x="1164.0" y="240.3" width="2.0" height="1.4" fill="#00bcff"/><rect x="1164.0" y="242.3" width="2.0" height="1.4" fill="#00bcff"/><rect x="1164.0" y="244.3" width="2.0" height="1.4" fill="#00bcff"/><rect x="1164.0" y="246.3" width="2.0" height="1.4" fill="#00bcff"/><rect x="1164.0" y="248.3" width="2.0" height="1.4" fill="#00bcff"/><rect x="1164.0" y="250.3" width="2.0" height="1.4" fill="#00bcff"/><rect x="1164.0" y="252.3" width="2.0" height="1.4" fill="#00bcff"/><rect x="1164.0" y="254.3" width="2.0" height="1.4" fill="#00bcff"/><polygon points="1166.0,262.0 1164.0,266.0 1160.0,270.0 1157.0,272.0 1148.0,275.0 1113.0,277.0 1139.0,279.0 1150.0,281.0 1140.0,285.0 1147.0,287.0 1153.0,289.0 1150.0,292.0 1160.0,295.0 1161.0,300.0 1162.0,305.0 1158.0,313.0 1163.0,316.0 1165.0,320.0 1165.0,335.0 1166.0,336.0" fill="#4bdc4b"/><polygon points="1150.0,279.0 1116.0,281.0 1112.0,283.5 1112.0,287.0 1120.0,288.0 1132.0,289.0 1135.0,291.0 1127.0,294.0 1140.0,296.0 1150.0,296.0 1148.0,290.0 1140.0,286.0 1145.0,282.0" fill="#00bcff"/><rect x="1156.0" y="242.2" width="6.0" height="2" fill="#00bcff"/><rect x="1162.0" y="242.2" width="4.0" height="2" fill="#b00000"/><rect x="1164.0" y="255.0" width="2.0" height="2" fill="#00bcff"/><rect x="1162.0" y="257.0" width="4.0" height="2" fill="#00bcff"/><rect x="1160.0" y="259.0" width="6.0" height="2" fill="#00bcff"/><rect x="1159.0" y="261.0" width="5.0" height="2" fill="#00bcff"/><rect x="1158.0" y="263.0" width="5.0" height="2" fill="#00bcff"/><rect x="1145.0" y="265.5" width="12.0" height="2" fill="#00bcff"/><rect x="1157.0" y="265.5" width="3.0" height="2" fill="#b00000"/><rect x="1156.0" y="268.0" width="6.0" height="2" fill="#00bcff"/><rect x="1162.0" y="268.0" width="2.0" height="2" fill="#b00000"/><rect x="1141.0" y="270.5" width="14.0" height="2" fill="#00bcff"/><rect x="1155.0" y="270.5" width="4.0" height="2" fill="#b00000"/><rect x="1135.5" y="272.2" width="14.5" height="2" fill="#00bcff"/><rect x="1150.0" y="272.2" width="7.0" height="2" fill="#b00000"/><rect x="1121.0" y="274.0" width="24.0" height="2" fill="#00bcff"/><rect x="1145.0" y="274.0" width="3.0" height="2" fill="#b00000"/><rect x="1044.0" y="275.5" width="62.0" height="2" fill="#00bcff"/><rect x="1106.0" y="275.5" width="7.0" height="2" fill="#b00000"/><rect x="995.0" y="277.2" width="86.0" height="2" fill="#00bcff"/><rect x="1081.0" y="277.2" width="7.0" height="2" fill="#b00000"/><rect x="1089.0" y="279.0" width="38.0" height="2" fill="#00bcff"/><rect x="1128.0" y="279.0" width="10.0" height="2" fill="#b00000"/><rect x="1116.0" y="280.8" width="29.0" height="2" fill="#00bcff"/><rect x="1146.0" y="280.8" width="4.0" height="2" fill="#b00000"/><rect x="1112.0" y="282.4" width="28.0" height="2" fill="#00bcff"/><rect x="1096.0" y="284.2" width="44.0" height="2" fill="#00bcff"/><rect x="1112.0" y="285.8" width="28.0" height="2" fill="#00bcff"/><rect x="1140.0" y="285.8" width="7.0" height="2" fill="#b00000"/><rect x="1120.0" y="287.3" width="28.0" height="2" fill="#00bcff"/><rect x="1132.0" y="288.6" width="18.0" height="2" fill="#00bcff"/><rect x="1151.0" y="288.6" width="2.0" height="2" fill="#b00000"/><rect x="1135.0" y="290.0" width="17.0" height="2" fill="#00bcff"/><rect x="1104.0" y="291.4" width="31.0" height="2" fill="#00bcff"/><rect x="1136.0" y="291.4" width="4.0" height="2" fill="#b00000"/><rect x="1150.0" y="291.4" width="10.0" height="2" fill="#00bcff"/><rect x="1160.0" y="291.4" width="2.0" height="2" fill="#b00000"/><rect x="1127.0" y="293.6" width="23.0" height="2" fill="#00bcff"/><rect x="1151.0" y="293.6" width="9.0" height="2" fill="#b00000"/><rect x="1140.0" y="295.3" width="18.0" height="2" fill="#00bcff"/><rect x="1148.0" y="297.0" width="14.0" height="2" fill="#00bcff"/><rect x="1152.0" y="299.0" width="11.0" height="2" fill="#00bcff"/><rect x="1155.0" y="301.0" width="8.0" height="2" fill="#00bcff"/><rect x="1150.0" y="304.0" width="13.0" height="2" fill="#00bcff"/><rect x="1155.0" y="306.5" width="8.0" height="2" fill="#00bcff"/><rect x="1150.0" y="309.0" width="10.0" height="2" fill="#00bcff"/><rect x="1148.0" y="311.8" width="10.0" height="2" fill="#00bcff"/><rect x="1149.0" y="313.6" width="9.0" height="2" fill="#00bcff"/><rect x="1160.0" y="316.0" width="5.0" height="2" fill="#00bcff"/><rect x="1162.0" y="319.0" width="4.0" height="2" fill="#00bcff"/><rect x="1160.0" y="321.0" width="6.0" height="2" fill="#00bcff"/><rect x="1161.0" y="325.0" width="5.0" height="2" fill="#00bcff"/><rect x="1160.0" y="329.0" width="6.0" height="2" fill="#00bcff"/><rect x="1162.0" y="323.0" width="4.0" height="2" fill="#00bcff"/><rect x="1163.0" y="327.0" width="3.0" height="2" fill="#00bcff"/><rect x="1162.0" y="332.0" width="4.0" height="2" fill="#00bcff"/><rect x="1163.0" y="337.0" width="3.0" height="2" fill="#00bcff"/><rect x="1162.0" y="341.0" width="4.0" height="2" fill="#00bcff"/><rect x="1161.0" y="344.0" width="4.0" height="2" fill="#00bcff"/><rect x="1163.0" y="347.0" width="3.0" height="2" fill="#00bcff"/><rect x="1163.0" y="349.0" width="3.0" height="2" fill="#00bcff"/><rect x="1273.5" y="284.0" width="206.5" height="2" fill="#8c969e"/><rect x="1396.5" y="111.1" width="1.6" height="1.8" fill="#8066d2"/><rect x="1396.5" y="163.1" width="1.6" height="1.8" fill="#8066d2"/><rect x="1396.5" y="169.5" width="1.6" height="1.8" fill="#8066d2"/><rect x="1396.5" y="195.1" width="1.6" height="1.8" fill="#8066d2"/><rect x="1396.5" y="209.1" width="1.6" height="1.8" fill="#8066d2"/><rect x="1396.5" y="217.1" width="1.6" height="1.8" fill="#8066d2"/><rect x="1396.5" y="221.1" width="1.6" height="1.8" fill="#8066d2"/><rect x="1396.5" y="227.1" width="1.6" height="1.8" fill="#8066d2"/><rect x="1396.5" y="355.1" width="1.6" height="1.8" fill="#8066d2"/><rect x="1396.5" y="361.1" width="1.6" height="1.8" fill="#8066d2"/><rect x="1396.5" y="365.4" width="1.6" height="1.8" fill="#8066d2"/><rect x="1396.5" y="370.1" width="1.6" height="1.8" fill="#8066d2"/><rect x="1396.5" y="374.6" width="1.6" height="1.8" fill="#8066d2"/><rect x="1396.5" y="381.1" width="1.6" height="1.8" fill="#8066d2"/><rect x="1396.5" y="387.6" width="1.6" height="1.8" fill="#8066d2"/><rect x="1396.5" y="391.3" width="1.6" height="1.8" fill="#8066d2"/><rect x="1396.5" y="394.1" width="1.6" height="1.8" fill="#8066d2"/><rect x="1396.5" y="445.1" width="1.6" height="1.8" fill="#8066d2"/><rect x="1396.5" y="451.5" width="1.6" height="1.8" fill="#8066d2"/><rect x="1396.5" y="727.1" width="1.6" height="1.8" fill="#8066d2"/><rect x="1396.4" y="230.0" width="1.2" height="28" fill="#8066d2"/><rect x="1396.5" y="302.0" width="1.7" height="48" fill="#8066d2"/><rect x="1396.0" y="302.0" width="3.0" height="8" fill="#8066d2"/><polygon points="1397.5,258.0 1396.0,260.0 1395.0,262.0 1394.0,264.0 1392.0,268.0 1388.0,270.0 1386.0,272.0 1380.0,274.0 1369.0,275.0 1366.0,277.0 1372.0,279.0 1384.0,281.0 1390.0,282.5 1397.5,283.0" fill="#8066d2"/><rect x="1389.0" y="265.4" width="8.5" height="2" fill="#8066d2"/><rect x="1329.5" y="275.5" width="68.0" height="2" fill="#8066d2"/><rect x="1308.7" y="276.6" width="88.8" height="2" fill="#8066d2"/><rect x="1366.0" y="274.5" width="31.5" height="2" fill="#8066d2"/><rect x="1380.0" y="273.0" width="17.5" height="2" fill="#8066d2"/><rect x="1371.6" y="278.5" width="25.9" height="2" fill="#8066d2"/><rect x="1384.2" y="280.2" width="13.3" height="2" fill="#8066d2"/><polygon points="1396.0,282.5 1404.0,283.0 1403.0,287.0 1405.0,291.0 1403.0,296.0 1401.0,299.5 1399.0,301.0 1398.5,303.0 1396.0,303.0" fill="#8066d2"/><rect x="1396.0" y="282.5" width="8.0" height="2" fill="#8066d2"/><rect x="1396.0" y="283.6" width="22.0" height="2" fill="#8066d2"/><rect x="1396.0" y="286.0" width="16.6" height="2" fill="#8066d2"/><rect x="1396.0" y="288.5" width="18.8" height="2" fill="#8066d2"/><rect x="1396.0" y="291.0" width="14.4" height="2" fill="#8066d2"/><rect x="1396.0" y="292.6" width="61.0" height="2" fill="#8066d2"/><rect x="1396.0" y="294.0" width="41.0" height="2" fill="#8066d2"/><rect x="1396.0" y="295.5" width="11.7" height="2" fill="#8066d2"/><rect x="1396.0" y="297.0" width="7.0" height="2" fill="#8066d2"/><rect x="1396.0" y="298.5" width="4.0" height="2" fill="#8066d2"/></svg>
</body></html>
